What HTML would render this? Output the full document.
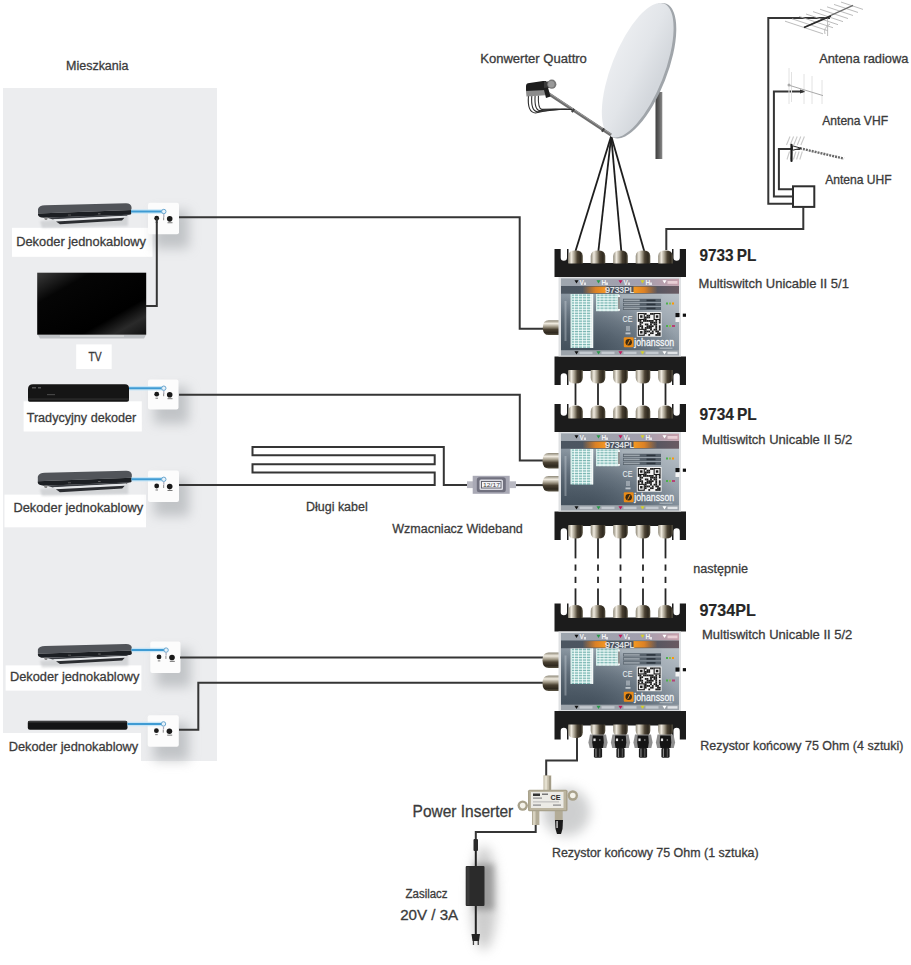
<!DOCTYPE html>
<html><head><meta charset="utf-8">
<style>
html,body{margin:0;padding:0;background:#fff;}
body{width:911px;height:965px;overflow:hidden;position:relative;}
svg{position:absolute;left:0;top:0;}
text{font-family:"Liberation Sans",sans-serif;}
</style></head><body>
<svg width="911" height="965" viewBox="0 0 911 965">
<defs>
  <linearGradient id="fc" x1="0" y1="0" x2="1" y2="0">
    <stop offset="0" stop-color="#8c8676"/><stop offset="0.22" stop-color="#f0ebe0"/><stop offset="0.45" stop-color="#9a9280"/>
    <stop offset="0.62" stop-color="#4a4132"/><stop offset="0.85" stop-color="#2e281e"/><stop offset="1" stop-color="#5a5444"/>
  </linearGradient>
  <linearGradient id="fcv" x1="0" y1="0" x2="0" y2="1">
    <stop offset="0" stop-color="#8c8676"/><stop offset="0.22" stop-color="#f0ebe0"/><stop offset="0.45" stop-color="#9a9280"/>
    <stop offset="0.62" stop-color="#4a4132"/><stop offset="0.85" stop-color="#2e281e"/><stop offset="1" stop-color="#5a5444"/>
  </linearGradient>
  <linearGradient id="msbody" x1="0.85" y1="0" x2="0.15" y2="1">
    <stop offset="0" stop-color="#c0c7cd"/><stop offset="0.3" stop-color="#a3adb6"/><stop offset="0.65" stop-color="#7a8793"/><stop offset="1" stop-color="#4f5c68"/>
  </linearGradient>
  <radialGradient id="msbody2" cx="0.25" cy="0.95" r="0.75">
    <stop offset="0" stop-color="#3c4955" stop-opacity="0.75"/><stop offset="0.6" stop-color="#3c4955" stop-opacity="0.35"/><stop offset="1" stop-color="#3c4955" stop-opacity="0"/>
  </radialGradient>
  <linearGradient id="msrow" x1="0" y1="0" x2="1" y2="0">
    <stop offset="0" stop-color="#9ea6ae"/><stop offset="0.7" stop-color="#a29fae"/><stop offset="1" stop-color="#c79fab"/>
  </linearGradient>
  <linearGradient id="mstitle" x1="0" y1="0" x2="1" y2="0">
    <stop offset="0" stop-color="#4c5661"/><stop offset="0.7" stop-color="#4d5560"/><stop offset="1" stop-color="#6a5a62"/>
  </linearGradient>
  <linearGradient id="orL" x1="0" y1="0" x2="1" y2="0">
    <stop offset="0" stop-color="#e8801e" stop-opacity="0"/><stop offset="0.55" stop-color="#ec861e" stop-opacity="0.9"/><stop offset="1" stop-color="#f59a22"/>
  </linearGradient>
  <linearGradient id="orR" x1="0" y1="0" x2="1" y2="0">
    <stop offset="0" stop-color="#f59a22"/><stop offset="0.45" stop-color="#ec861e" stop-opacity="0.9"/><stop offset="1" stop-color="#e8801e" stop-opacity="0"/>
  </linearGradient>
  <linearGradient id="dish" x1="0" y1="0" x2="1" y2="0.2">
    <stop offset="0" stop-color="#eceef1"/><stop offset="0.55" stop-color="#e2e5e9"/><stop offset="1" stop-color="#d3d7dc"/>
  </linearGradient>
  <linearGradient id="pole" x1="0" y1="0" x2="1" y2="0">
    <stop offset="0" stop-color="#3e3e3e"/><stop offset="0.5" stop-color="#5e5e5e"/><stop offset="1" stop-color="#8a8a8a"/>
  </linearGradient>
  <linearGradient id="stb" x1="0" y1="0" x2="0" y2="1">
    <stop offset="0" stop-color="#55585d"/><stop offset="0.45" stop-color="#3a3d42"/><stop offset="0.5" stop-color="#1f2226"/><stop offset="1" stop-color="#17191c"/>
  </linearGradient>
  <linearGradient id="tvg" x1="0" y1="0" x2="1" y2="1">
    <stop offset="0" stop-color="#3a3a3a"/><stop offset="0.25" stop-color="#050505"/><stop offset="0.7" stop-color="#000"/><stop offset="0.85" stop-color="#2a2a2a"/><stop offset="1" stop-color="#111"/>
  </linearGradient>
  <filter id="b1" x="-50%" y="-50%" width="200%" height="200%"><feGaussianBlur stdDeviation="1"/></filter>
  <filter id="b3" x="-50%" y="-50%" width="200%" height="200%"><feGaussianBlur stdDeviation="3"/></filter>
  <filter id="b6" x="-100%" y="-100%" width="300%" height="300%"><feGaussianBlur stdDeviation="6"/></filter>
</defs>

<rect x="3" y="88" width="214" height="673" fill="#ecedef"/>
<rect x="0" y="733" width="141" height="32" fill="#fff"/>
<rect x="12" y="227.8" width="140.5" height="29" fill="#fff"/>
<rect x="76.2" y="344.4" width="35.5" height="24.6" fill="#fff"/>
<rect x="23.6" y="401.3" width="118.2" height="30.2" fill="#fff"/>
<rect x="4.5" y="494.6" width="141.5" height="32.7" fill="#fff"/>
<rect x="5.6" y="665.4" width="135.8" height="25.2" fill="#fff"/>
<path d="M40.00,221.00 L128.00,214.00 L128.00,226.00 L42.00,228.00 Z" fill="#b9bcbf" opacity="0.5" filter="url(#b1)"/>
<path d="M38.00,209.00 Q39.00,205.50 45.00,205.30 L126.00,203.30 Q131.00,203.50 131.50,207.00 L131.50,210.00 L38.00,213.50 Z" fill="#515459"/>
<path d="M38.00,213.50 L131.50,210.00 L131.50,213.50 Q131.00,214.80 129.00,214.80 L44.00,217.80 Q38.50,217.50 38.00,215.00 Z" fill="#1c1f23"/>
<path d="M46.00,217.60 L129.00,214.60 L126.00,216.00 L53.00,219.50 Z" fill="#3a3d42"/>
<path d="M53.00,219.30 L126.00,215.80 L124.50,217.80 L56.00,221.40 Z" fill="#e4e6e8"/>
<path d="M56.00,221.40 L124.50,217.80 L122.00,220.50 L60.00,224.30 Z" fill="#2b2d31"/>
<path d="M44.00,217.80 L48.00,217.60 L47.00,220.00 L45.00,220.00 Z" fill="#888"/>
<rect x="68.00" y="214.50" width="3" height="1" fill="#555"/>
<rect x="98.00" y="213.30" width="2.5" height="1" fill="#666"/>
<path d="M39.81,488.92 L128.28,481.75 L128.28,494.04 L41.82,496.08 Z" fill="#b9bcbf" opacity="0.5" filter="url(#b1)"/>
<path d="M37.80,476.63 Q38.81,473.05 44.84,472.85 L126.27,470.80 Q131.30,471.00 131.80,474.59 L131.80,477.66 L37.80,481.24 Z" fill="#515459"/>
<path d="M37.80,481.24 L131.80,477.66 L131.80,481.24 Q131.30,482.57 129.29,482.57 L43.83,485.64 Q38.31,485.33 37.80,482.78 Z" fill="#1c1f23"/>
<path d="M45.85,485.44 L129.29,482.37 L126.27,483.80 L52.88,487.38 Z" fill="#3a3d42"/>
<path d="M52.88,487.18 L126.27,483.59 L124.76,485.64 L55.90,489.33 Z" fill="#e4e6e8"/>
<path d="M55.90,489.33 L124.76,485.64 L122.25,488.41 L59.92,492.30 Z" fill="#2b2d31"/>
<path d="M43.83,485.64 L47.86,485.44 L46.85,487.89 L44.84,487.89 Z" fill="#888"/>
<rect x="67.96" y="482.26" width="3" height="1" fill="#555"/>
<rect x="98.12" y="481.04" width="2.5" height="1" fill="#666"/>
<path d="M39.91,660.87 L128.29,654.20 L128.29,665.63 L41.92,667.53 Z" fill="#b9bcbf" opacity="0.5" filter="url(#b1)"/>
<path d="M37.90,649.43 Q38.91,646.10 44.93,645.91 L126.28,644.00 Q131.30,644.19 131.80,647.53 L131.80,650.38 L37.90,653.72 Z" fill="#515459"/>
<path d="M37.90,653.72 L131.80,650.38 L131.80,653.72 Q131.30,654.96 129.29,654.96 L43.93,657.82 Q38.40,657.53 37.90,655.15 Z" fill="#1c1f23"/>
<path d="M45.94,657.63 L129.29,654.77 L126.28,656.10 L52.97,659.44 Z" fill="#3a3d42"/>
<path d="M52.97,659.25 L126.28,655.91 L124.77,657.82 L55.98,661.25 Z" fill="#e4e6e8"/>
<path d="M55.98,661.25 L124.77,657.82 L122.26,660.39 L60.00,664.01 Z" fill="#2b2d31"/>
<path d="M43.93,657.82 L47.94,657.63 L46.94,659.91 L44.93,659.91 Z" fill="#888"/>
<rect x="68.03" y="654.67" width="3" height="1" fill="#555"/>
<rect x="98.16" y="653.53" width="2.5" height="1" fill="#666"/>
<path d="M28,389 Q28,384.2 33,384.2 L125,384.2 Q129,384.2 129,388 L129,400 Q129,401.7 127,401.7 L29.5,401.7 Q28,401.7 28,400 Z" fill="#151515"/>
<rect x="32" y="387" width="4" height="1.5" fill="#555"/><rect x="38" y="387" width="3" height="1.5" fill="#555"/><rect x="47" y="394" width="8" height="1.2" fill="#444"/>
<rect x="28" y="398.5" width="101" height="1.2" fill="#303030"/>
<rect x="27.8" y="720.7" width="99.7" height="9.1" rx="2" fill="#141414"/>
<rect x="28" y="721" width="99" height="1.5" fill="#3c3c3c"/>
<rect x="37.2" y="272.7" width="109" height="62" fill="url(#tvg)"/>
<path d="M38,335 L146,335 L144,338.5 L40,338.5 Z" fill="#bfc2c5"/>
<rect x="60" y="335.5" width="64" height="1" fill="#e5e5e5"/>
<rect x="154" y="210.8" width="35" height="37.5" fill="#9ea2a6" opacity="0.55" filter="url(#b6)"/>
<rect x="148" y="202.8" width="31" height="31.5" rx="2" fill="#fcfcfc"/>
<circle cx="156.7" cy="218.235" r="2.4" fill="#1a1a1a"/>
<circle cx="169.7" cy="218.835" r="2.8" fill="#1a1a1a"/>
<rect x="167.5" y="222.235" width="5" height="1" fill="#777"/>
<rect x="155.5" y="221.735" width="2.5" height="1" fill="#777"/>
<rect x="163" y="217.235" width="1.2" height="3" fill="#999"/>
<rect x="154" y="387.4" width="34.5" height="36.2" fill="#9ea2a6" opacity="0.55" filter="url(#b6)"/>
<rect x="148" y="379.4" width="30.5" height="30.2" rx="2" fill="#fcfcfc"/>
<circle cx="156.7" cy="394.198" r="2.4" fill="#1a1a1a"/>
<circle cx="169.7" cy="394.798" r="2.8" fill="#1a1a1a"/>
<rect x="167.5" y="398.198" width="5" height="1" fill="#777"/>
<rect x="155.5" y="397.698" width="2.5" height="1" fill="#777"/>
<rect x="163" y="393.198" width="1.2" height="3" fill="#999"/>
<rect x="154" y="478.6" width="35" height="37.4" fill="#9ea2a6" opacity="0.55" filter="url(#b6)"/>
<rect x="148" y="470.6" width="31" height="31.4" rx="2" fill="#fcfcfc"/>
<circle cx="156.7" cy="485.98600000000005" r="2.4" fill="#1a1a1a"/>
<circle cx="169.7" cy="486.58600000000007" r="2.8" fill="#1a1a1a"/>
<rect x="167.5" y="489.98600000000005" width="5" height="1" fill="#777"/>
<rect x="155.5" y="489.48600000000005" width="2.5" height="1" fill="#777"/>
<rect x="163" y="484.98600000000005" width="1.2" height="3" fill="#999"/>
<rect x="156.3" y="649.4" width="34.2" height="37.6" fill="#9ea2a6" opacity="0.55" filter="url(#b6)"/>
<rect x="150.3" y="641.4" width="30.2" height="31.6" rx="2" fill="#fcfcfc"/>
<circle cx="159.0" cy="656.884" r="2.4" fill="#1a1a1a"/>
<circle cx="172.0" cy="657.484" r="2.8" fill="#1a1a1a"/>
<rect x="169.8" y="660.884" width="5" height="1" fill="#777"/>
<rect x="157.8" y="660.384" width="2.5" height="1" fill="#777"/>
<rect x="165.3" y="655.884" width="1.2" height="3" fill="#999"/>
<rect x="153.7" y="723.2" width="35.1" height="37.5" fill="#9ea2a6" opacity="0.55" filter="url(#b6)"/>
<rect x="147.7" y="715.2" width="31.1" height="31.5" rx="2" fill="#fcfcfc"/>
<circle cx="156.39999999999998" cy="730.635" r="2.4" fill="#1a1a1a"/>
<circle cx="169.39999999999998" cy="731.235" r="2.8" fill="#1a1a1a"/>
<rect x="167.2" y="734.635" width="5" height="1" fill="#777"/>
<rect x="155.2" y="734.135" width="2.5" height="1" fill="#777"/>
<rect x="162.7" y="729.635" width="1.2" height="3" fill="#999"/>
<line x1="131" y1="211.5" x2="163.8" y2="211.5" stroke="#bfe3f7" stroke-width="4.5" opacity="0.8"/>
<line x1="131" y1="211.5" x2="163.8" y2="211.5" stroke="#3f9bd3" stroke-width="2"/>
<line x1="129" y1="388.2" x2="163.8" y2="388.2" stroke="#bfe3f7" stroke-width="4.5" opacity="0.8"/>
<line x1="129" y1="388.2" x2="163.8" y2="388.2" stroke="#3f9bd3" stroke-width="2"/>
<line x1="131.5" y1="479.3" x2="163.8" y2="479.3" stroke="#bfe3f7" stroke-width="4.5" opacity="0.8"/>
<line x1="131.5" y1="479.3" x2="163.8" y2="479.3" stroke="#3f9bd3" stroke-width="2"/>
<line x1="131.5" y1="650.1" x2="166.1" y2="650.1" stroke="#bfe3f7" stroke-width="4.5" opacity="0.8"/>
<line x1="131.5" y1="650.1" x2="166.1" y2="650.1" stroke="#3f9bd3" stroke-width="2"/>
<line x1="127.5" y1="723.9" x2="163.5" y2="723.9" stroke="#bfe3f7" stroke-width="4.5" opacity="0.8"/>
<line x1="127.5" y1="723.9" x2="163.5" y2="723.9" stroke="#3f9bd3" stroke-width="2"/>
<circle cx="163.8" cy="211.5" r="2.2" fill="#e6f2fa" stroke="#6aa6cf" stroke-width="1"/>
<rect x="163.20000000000002" y="214.0" width="1.2" height="3" fill="#aab"/>
<circle cx="163.8" cy="388.2" r="2.2" fill="#e6f2fa" stroke="#6aa6cf" stroke-width="1"/>
<rect x="163.20000000000002" y="390.7" width="1.2" height="3" fill="#aab"/>
<circle cx="163.8" cy="479.3" r="2.2" fill="#e6f2fa" stroke="#6aa6cf" stroke-width="1"/>
<rect x="163.20000000000002" y="481.8" width="1.2" height="3" fill="#aab"/>
<circle cx="166.1" cy="650.1" r="2.2" fill="#e6f2fa" stroke="#6aa6cf" stroke-width="1"/>
<rect x="165.5" y="652.6" width="1.2" height="3" fill="#aab"/>
<circle cx="163.5" cy="723.9" r="2.2" fill="#e6f2fa" stroke="#6aa6cf" stroke-width="1"/>
<rect x="162.9" y="726.4" width="1.2" height="3" fill="#aab"/>
<path d="M179,217.3 L519.7,217.3 L519.7,328.8 L543,328.8" stroke="#353535" stroke-width="2" fill="none" stroke-linejoin="miter" stroke-linecap="butt"/>
<path d="M146,306 L156.8,306 L156.8,218" stroke="#353535" stroke-width="2" fill="none" stroke-linejoin="miter" stroke-linecap="butt"/>
<path d="M179,394.7 L519.8,394.7 L519.8,460.6 L543,460.6" stroke="#353535" stroke-width="2" fill="none" stroke-linejoin="miter" stroke-linecap="butt"/>
<path d="M179,485.1 L434.7,485.1 L434.7,472.6 L252.5,472.6 L252.5,464.2 L434.7,464.2 L434.7,455.2 L252.5,455.2 L252.5,447 L443.8,447 L443.8,485.1 L470,485.1" stroke="#353535" stroke-width="2" fill="none" stroke-linejoin="miter" stroke-linecap="butt"/>
<path d="M514,485.1 L543,485.1" stroke="#353535" stroke-width="2" fill="none" stroke-linejoin="miter" stroke-linecap="butt"/>
<path d="M180,657.4 L543,657.4" stroke="#353535" stroke-width="2" fill="none" stroke-linejoin="miter" stroke-linecap="butt"/>
<path d="M179,729.8 L198.3,729.8 L198.3,682.8 L543,682.8" stroke="#353535" stroke-width="2" fill="none" stroke-linejoin="miter" stroke-linecap="butt"/>
<path d="M577,737 L577,760.6 L546.2,760.6 L546.2,777" stroke="#353535" stroke-width="2" fill="none" stroke-linejoin="miter" stroke-linecap="butt"/>
<path d="M535.7,824 L535.7,831.9 L475.8,831.9 L475.8,842" stroke="#353535" stroke-width="2" fill="none" stroke-linejoin="miter" stroke-linecap="butt"/>
<path d="M830,18.1 L768.3,18.1 L768.3,203.7 L793,203.7" stroke="#353535" stroke-width="2" fill="none" stroke-linejoin="miter" stroke-linecap="butt"/>
<path d="M804.5,91.6 L773.9,91.6 L773.9,196.6 L793,196.6" stroke="#353535" stroke-width="2" fill="none" stroke-linejoin="miter" stroke-linecap="butt"/>
<path d="M800,149 L778.9,149 L778.9,189.2 L793,189.2" stroke="#353535" stroke-width="2" fill="none" stroke-linejoin="miter" stroke-linecap="butt"/>
<rect x="793" y="186.3" width="21.3" height="20.6" fill="#fff" stroke="#2e2e2e" stroke-width="2"/>
<path d="M803.3,207 L803.3,228.9 L666.3,228.9 L666.3,250" stroke="#353535" stroke-width="2" fill="none" stroke-linejoin="miter" stroke-linecap="butt"/>
<path d="M611.2,136 L575.5,251" stroke="#1e1e1e" stroke-width="1.8" fill="none" stroke-linejoin="miter" stroke-linecap="butt"/>
<path d="M611.2,136 L598.4,251" stroke="#1e1e1e" stroke-width="1.8" fill="none" stroke-linejoin="miter" stroke-linecap="butt"/>
<path d="M611.2,136 L621.3,251" stroke="#1e1e1e" stroke-width="1.8" fill="none" stroke-linejoin="miter" stroke-linecap="butt"/>
<path d="M611.2,136 L644.2,251" stroke="#1e1e1e" stroke-width="1.8" fill="none" stroke-linejoin="miter" stroke-linecap="butt"/>
<path d="M575.5,383 L575.5,405" stroke="#262626" stroke-width="1.8" fill="none" stroke-linejoin="miter" stroke-linecap="butt"/>
<path d="M598,383 L598,405" stroke="#262626" stroke-width="1.8" fill="none" stroke-linejoin="miter" stroke-linecap="butt"/>
<path d="M620.5,383 L620.5,405" stroke="#262626" stroke-width="1.8" fill="none" stroke-linejoin="miter" stroke-linecap="butt"/>
<path d="M643,383 L643,405" stroke="#262626" stroke-width="1.8" fill="none" stroke-linejoin="miter" stroke-linecap="butt"/>
<path d="M665.5,383 L665.5,405" stroke="#262626" stroke-width="1.8" fill="none" stroke-linejoin="miter" stroke-linecap="butt"/>
<path d="M575.5,538 L575.5,558.4" stroke="#262626" stroke-width="1.8" fill="none" stroke-linejoin="miter" stroke-linecap="butt"/>
<path d="M575.5,564.5 L575.5,570.7" stroke="#262626" stroke-width="1.8" fill="none" stroke-linejoin="miter" stroke-linecap="butt"/>
<path d="M575.5,576.8 L575.5,583" stroke="#262626" stroke-width="1.8" fill="none" stroke-linejoin="miter" stroke-linecap="butt"/>
<path d="M575.5,588.4 L575.5,605" stroke="#262626" stroke-width="1.8" fill="none" stroke-linejoin="miter" stroke-linecap="butt"/>
<path d="M598,538 L598,558.4" stroke="#262626" stroke-width="1.8" fill="none" stroke-linejoin="miter" stroke-linecap="butt"/>
<path d="M598,564.5 L598,570.7" stroke="#262626" stroke-width="1.8" fill="none" stroke-linejoin="miter" stroke-linecap="butt"/>
<path d="M598,576.8 L598,583" stroke="#262626" stroke-width="1.8" fill="none" stroke-linejoin="miter" stroke-linecap="butt"/>
<path d="M598,588.4 L598,605" stroke="#262626" stroke-width="1.8" fill="none" stroke-linejoin="miter" stroke-linecap="butt"/>
<path d="M620.5,538 L620.5,558.4" stroke="#262626" stroke-width="1.8" fill="none" stroke-linejoin="miter" stroke-linecap="butt"/>
<path d="M620.5,564.5 L620.5,570.7" stroke="#262626" stroke-width="1.8" fill="none" stroke-linejoin="miter" stroke-linecap="butt"/>
<path d="M620.5,576.8 L620.5,583" stroke="#262626" stroke-width="1.8" fill="none" stroke-linejoin="miter" stroke-linecap="butt"/>
<path d="M620.5,588.4 L620.5,605" stroke="#262626" stroke-width="1.8" fill="none" stroke-linejoin="miter" stroke-linecap="butt"/>
<path d="M643,538 L643,558.4" stroke="#262626" stroke-width="1.8" fill="none" stroke-linejoin="miter" stroke-linecap="butt"/>
<path d="M643,564.5 L643,570.7" stroke="#262626" stroke-width="1.8" fill="none" stroke-linejoin="miter" stroke-linecap="butt"/>
<path d="M643,576.8 L643,583" stroke="#262626" stroke-width="1.8" fill="none" stroke-linejoin="miter" stroke-linecap="butt"/>
<path d="M643,588.4 L643,605" stroke="#262626" stroke-width="1.8" fill="none" stroke-linejoin="miter" stroke-linecap="butt"/>
<path d="M665.5,538 L665.5,558.4" stroke="#262626" stroke-width="1.8" fill="none" stroke-linejoin="miter" stroke-linecap="butt"/>
<path d="M665.5,564.5 L665.5,570.7" stroke="#262626" stroke-width="1.8" fill="none" stroke-linejoin="miter" stroke-linecap="butt"/>
<path d="M665.5,576.8 L665.5,583" stroke="#262626" stroke-width="1.8" fill="none" stroke-linejoin="miter" stroke-linecap="butt"/>
<path d="M665.5,588.4 L665.5,605" stroke="#262626" stroke-width="1.8" fill="none" stroke-linejoin="miter" stroke-linecap="butt"/>
<rect x="655.5" y="92" width="6.8" height="67" fill="url(#pole)"/>
<ellipse cx="640" cy="70.8" rx="26.8" ry="72" transform="rotate(21.5 640 70.8)" fill="#a0a5aa"/>
<ellipse cx="637.7" cy="70.2" rx="26.3" ry="71.6" transform="rotate(21.5 637.7 70.2)" fill="url(#dish)"/>
<line x1="546" y1="92" x2="611" y2="135" stroke="#6e6e6e" stroke-width="3.2"/>
<line x1="546" y1="91" x2="611" y2="134" stroke="#9a9a9a" stroke-width="1"/>
<rect x="572" y="108.5" width="2" height="4" fill="#444" transform="rotate(33.5 573 110.5)"/>
<rect x="602" y="128" width="2" height="4" fill="#444" transform="rotate(33.5 603 130)"/>
<path d="M528.5,95.5 Q527.0,112.5 535.5,113.0 Q556,108.5 572,109.5" stroke="#2e2e2e" stroke-width="1.1" fill="none"/>
<path d="M531.8,95.5 Q530.5999999999999,111.2 537.5999999999999,111.8 Q556,108.5 572,109.5" stroke="#2e2e2e" stroke-width="1.1" fill="none"/>
<path d="M535.1,95.5 Q534.2,109.9 539.7,110.6 Q556,108.5 572,109.5" stroke="#2e2e2e" stroke-width="1.1" fill="none"/>
<path d="M538.4,95.5 Q537.8,108.6 541.8,109.4 Q556,108.5 572,109.5" stroke="#2e2e2e" stroke-width="1.1" fill="none"/>
<path d="M526,86 Q526,83.2 529.5,83 L543,81 L546,81 L546.5,91 L529,92.2 Q526,92.3 526,90 Z" fill="#1d1d1d"/>
<path d="M526,91 L546,90 L545.5,95.3 L526.5,96.5 Z" fill="#8c8c8c"/>
<rect x="544" y="81.5" width="5" height="6.5" fill="#3a3a3a"/>
<circle cx="551.8" cy="84.2" r="4.6" fill="#777"/><circle cx="551.3" cy="84.2" r="3.2" fill="#999"/>
<path d="M543.5,88 L548,87.5 L550.5,96.5 L546,98 Z" fill="#1d1d1d"/>
<g stroke="#b4b4b4" stroke-width="0.9" fill="none">
<line x1="785.0" y1="21.173000000000002" x2="823.0" y2="33.827"/>
<line x1="792.0" y1="18.786" x2="828.0" y2="30.774"/>
<line x1="799.0" y1="16.398999999999997" x2="833.0" y2="27.721"/>
<line x1="806.0" y1="14.012" x2="838.0" y2="24.668"/>
<line x1="813.0" y1="11.624999999999996" x2="843.0" y2="21.615"/>
<line x1="820.0" y1="9.238" x2="848.0" y2="18.561999999999998"/>
<line x1="827.0" y1="6.850999999999999" x2="853.0" y2="15.509"/>
<line x1="834.0" y1="4.463999999999997" x2="858.0" y2="12.455999999999998"/>
<line x1="841.0" y1="2.076999999999998" x2="863.0" y2="9.402999999999999"/>
<line x1="827.6" y1="18" x2="827.6" y2="36"/>
<path d="M830,24 Q823,28 825,34"/>
</g>
<line x1="804" y1="27.5" x2="853" y2="5.4" stroke="#6a6a6a" stroke-width="1.3"/>
<line x1="804" y1="27.5" x2="831" y2="16" stroke="#2a2a2a" stroke-width="1.5"/>
<g stroke="#e2e2e2" stroke-width="1" fill="none">
<line x1="789" y1="68" x2="789" y2="104"/>
<line x1="791.5" y1="72" x2="791.5" y2="102"/>
<line x1="804" y1="74" x2="804" y2="104"/>
<line x1="812" y1="76" x2="812" y2="104"/>
<line x1="822" y1="80" x2="822" y2="104"/>
</g>
<line x1="788.3" y1="85" x2="823" y2="95.6" stroke="#a9a9a9" stroke-width="1"/>
<circle cx="789" cy="85" r="1.5" fill="#aaa"/>
<path d="M800,89.5 L805,91.6 L800,93.5 Z" fill="#333"/>
<g stroke="#c9c9c9" stroke-width="1.1" fill="none">
<line x1="786.5" y1="145" x2="790.0" y2="136.5"/>
<line x1="787.0" y1="159.5" x2="789.5" y2="151.5"/>
<line x1="790.1" y1="145" x2="793.6" y2="136.5"/>
<line x1="790.2" y1="159.5" x2="792.7" y2="151.5"/>
<line x1="793.7" y1="145" x2="797.2" y2="136.5"/>
<line x1="793.4" y1="159.5" x2="795.9" y2="151.5"/>
<line x1="797.3" y1="145" x2="800.8" y2="136.5"/>
<line x1="796.6" y1="159.5" x2="799.1" y2="151.5"/>
<line x1="800.9" y1="145" x2="804.4" y2="136.5"/>
<line x1="799.8" y1="159.5" x2="802.3" y2="151.5"/>
</g>
<line x1="800" y1="148.3" x2="844" y2="158.6" stroke="#6a6a6a" stroke-width="2.4" stroke-dasharray="2 1"/>
<line x1="791.5" y1="144.8" x2="791.5" y2="161" stroke="#1a1a1a" stroke-width="2.2" stroke-linecap="round"/>
<path d="M792.5,145.8 L801,148.2 L792.5,150.3 Z" fill="#f4f4f4" stroke="#2a2a2a" stroke-width="1"/>
<rect x="467" y="481.3" width="6" height="6.8" fill="#b9b9c2"/>
<rect x="509.5" y="481.3" width="6.5" height="6.8" fill="#b9b9c2"/>
<rect x="472.7" y="475.8" width="37" height="18" fill="#a9a9b5"/>
<rect x="476.8" y="477.3" width="29" height="15" rx="2.5" fill="#71717f"/>
<rect x="479.5" y="479.5" width="23.5" height="10.5" rx="1.5" fill="#dcdce3"/>
<rect x="481.5" y="481.5" width="19.5" height="6.5" fill="#f4f4f7" stroke="#5a5a66" stroke-width="0.9"/>
<text x="483" y="487" font-size="6" fill="#444" textLength="17" lengthAdjust="spacingAndGlyphs">12/17</text>
<ellipse cx="566" cy="812" rx="24" ry="24" fill="#9fa1a3" opacity="0.5" filter="url(#b6)"/>
<rect x="543.4" y="775.3" width="7.9" height="15" fill="#c3bca8"/>
<rect x="544.5" y="776" width="2.8" height="14" fill="#e4dfcf"/>
<rect x="549" y="776" width="2" height="14" fill="#a39c88"/>
<circle cx="522.7" cy="805.6" r="5.2" fill="#a8a18b"/><circle cx="522.7" cy="805.6" r="2.8" fill="#f4f2ea"/>
<circle cx="572.8" cy="795.5" r="5.2" fill="#a8a18b"/><circle cx="572.8" cy="795.5" r="2.8" fill="#f4f2ea"/>
<rect x="532" y="811" width="7.4" height="14" fill="#b3ac97"/><rect x="533" y="811" width="2.5" height="14" fill="#d8d2c0"/>
<rect x="554.8" y="811" width="7.9" height="9.5" fill="#b3ac97"/>
<path d="M555,820 L563,820 L562.5,829 L561,834 L557,834 L555.5,829 Z" fill="#1a1a1a"/>
<rect x="556.3" y="821" width="1.6" height="7" fill="#bbb"/>
<rect x="528" y="789.8" width="39.5" height="21.5" rx="1.5" fill="#a9a28c"/>
<rect x="529.5" y="791" width="36.5" height="19" fill="#bcb5a0"/>
<rect x="531" y="792" width="32.5" height="16" fill="#ecebe6"/>
<rect x="533" y="793.5" width="7" height="2.5" fill="#333"/><rect x="542" y="793.5" width="6" height="1.5" fill="#777"/>
<text x="550.5" y="800" font-size="7.5" font-weight="bold" fill="#2a2a2a" textLength="10" lengthAdjust="spacingAndGlyphs">CE</text>
<rect x="533" y="797.5" width="9" height="1.2" fill="#888"/><rect x="533" y="801.5" width="26" height="0.8" fill="#aaa"/><rect x="533" y="804.5" width="8" height="1.2" fill="#888"/><rect x="553" y="804.5" width="8" height="1.2" fill="#888"/>
<ellipse cx="484" cy="898" rx="13" ry="52" fill="#9a9a9a" opacity="0.5" filter="url(#b6)"/>
<rect x="474" y="864" width="20" height="46" fill="#7a7a7a" opacity="0.6" filter="url(#b3)"/>
<rect x="474.8" y="842" width="2" height="24" fill="#222"/>
<rect x="473.5" y="839" width="4.5" height="12" rx="1" fill="#2a2a2a"/>
<rect x="474.8" y="905" width="2" height="30" fill="#222"/>
<rect x="465.7" y="866" width="18.8" height="40" rx="1" fill="#2b2b2b"/>
<rect x="466.5" y="867" width="3" height="38" fill="#3a3a3a"/>
<path d="M471.5,934 L480,934 L479,941 L472.5,941 Z" fill="#222"/>
<rect x="472.8" y="941" width="1.3" height="4" fill="#444"/><rect x="477.6" y="941" width="1.3" height="4" fill="#444"/>
<g transform="translate(554.5,249)">
<path d="M0,0 L6.2,0 L6.2,8.5 Q6.2,11.8 9.35,11.8 Q12.5,11.8 12.5,8.5 L12.5,0 L14,0 L14,14 L117.5,14 L117.5,0 L119,0 L119,8.5 Q119,11.8 122.15,11.8 Q125.3,11.8 125.3,8.5 L125.3,0 L131.5,0 L131.5,28 L0,28 Z" fill="#1c1c1c"/>
<path d="M13.7,14.5 L13.7,7.4399999999999995 Q13.7,1.6 21,1.6 Q28.299999999999997,1.6 28.299999999999997,7.4399999999999995 L28.299999999999997,14.5 Z" fill="url(#fc)"/>
<path d="M36.2,14.5 L36.2,7.4399999999999995 Q36.2,1.6 43.5,1.6 Q50.800000000000004,1.6 50.800000000000004,7.4399999999999995 L50.800000000000004,14.5 Z" fill="url(#fc)"/>
<path d="M58.7,14.5 L58.7,7.4399999999999995 Q58.7,1.6 66,1.6 Q73.3,1.6 73.3,7.4399999999999995 L73.3,14.5 Z" fill="url(#fc)"/>
<path d="M81.2,14.5 L81.2,7.4399999999999995 Q81.2,1.6 88.5,1.6 Q95.8,1.6 95.8,7.4399999999999995 L95.8,14.5 Z" fill="url(#fc)"/>
<path d="M103.7,14.5 L103.7,7.4399999999999995 Q103.7,1.6 111,1.6 Q118.3,1.6 118.3,7.4399999999999995 L118.3,14.5 Z" fill="url(#fc)"/>
<path d="M0,107.5 L131.5,107.5 L131.5,136 L125.3,136 L125.3,127.5 Q125.3,124.2 122.15,124.2 Q119,124.2 119,127.5 L119,136 L117.5,136 L117.5,122 L14,122 L14,136 L12.5,136 L12.5,127.5 Q12.5,124.2 9.35,124.2 Q6.2,124.2 6.2,127.5 L6.2,136 L0,136 Z" fill="#1c1c1c"/>
<path d="M13.7,121 L13.7,128.66 Q13.7,134.5 21,134.5 Q28.299999999999997,134.5 28.299999999999997,128.66 L28.299999999999997,121 Z" fill="url(#fc)"/>
<path d="M36.2,121 L36.2,128.66 Q36.2,134.5 43.5,134.5 Q50.800000000000004,134.5 50.800000000000004,128.66 L50.800000000000004,121 Z" fill="url(#fc)"/>
<path d="M58.7,121 L58.7,128.66 Q58.7,134.5 66,134.5 Q73.3,134.5 73.3,128.66 L73.3,121 Z" fill="url(#fc)"/>
<path d="M81.2,121 L81.2,128.66 Q81.2,134.5 88.5,134.5 Q95.8,134.5 95.8,128.66 L95.8,121 Z" fill="url(#fc)"/>
<path d="M103.7,121 L103.7,128.66 Q103.7,134.5 111,134.5 Q118.3,134.5 118.3,128.66 L118.3,121 Z" fill="url(#fc)"/>
<path d="M4.5,71.3 L-5.78,71.3 Q-11.7,71.3 -11.7,78.69999999999999 Q-11.7,86.1 -5.78,86.1 L4.5,86.1 Z" fill="url(#fcv)"/>
<rect x="4" y="28" width="122.5" height="79.5" fill="#dfe1e3"/>
<rect x="6.5" y="29.5" width="118" height="76.5" fill="url(#msbody)"/>
<rect x="6.5" y="29.5" width="118" height="76.5" fill="url(#msbody2)"/>
<rect x="6.5" y="29.8" width="118" height="7" fill="url(#msrow)"/>
<path d="M20,31.3 L24,31.3 L22,34.5 Z" fill="#111"/>
<text x="25" y="35.8" font-size="6.5" font-weight="bold" fill="#f2f4f6">V</text>
<rect x="29.5" y="33.5" width="2" height="2.5" fill="#f2f4f6" opacity="0.8"/>
<path d="M42,31.3 L46,31.3 L44,34.5 Z" fill="#2a9a4a"/>
<text x="47" y="35.8" font-size="6.5" font-weight="bold" fill="#f2f4f6">H</text>
<rect x="51.5" y="33.5" width="2" height="2.5" fill="#f2f4f6" opacity="0.8"/>
<path d="M64,31.3 L68,31.3 L66,34.5 Z" fill="#c2185b"/>
<text x="69" y="35.8" font-size="6.5" font-weight="bold" fill="#f2f4f6">V</text>
<rect x="73.5" y="33.5" width="2" height="2.5" fill="#f2f4f6" opacity="0.8"/>
<path d="M86,31.3 L90,31.3 L88,34.5 Z" fill="#d4d02a"/>
<text x="91" y="35.8" font-size="6.5" font-weight="bold" fill="#f2f4f6">H</text>
<rect x="95.5" y="33.5" width="2" height="2.5" fill="#f2f4f6" opacity="0.8"/>
<path d="M108,31.3 L112,31.3 L110,34.5 Z" fill="#fff"/>
<rect x="113" y="32" width="10" height="2.8" fill="#f6dfe3" opacity="0.75"/>
<rect x="6.5" y="37" width="118" height="7.7" fill="url(#mstitle)"/>
<rect x="28" y="37.6" width="24" height="6.5" fill="url(#orL)"/>
<rect x="79" y="37.6" width="24" height="6.5" fill="url(#orR)"/>
<text x="50.8" y="44.2" font-size="8.6" textLength="29" lengthAdjust="spacingAndGlyphs" fill="#eef0f2" stroke="#eef0f2" stroke-width="0.2">9733PL</text>
<rect x="16" y="45" width="22.7" height="54" fill="#d6efec"/>
<rect x="41.5" y="45" width="22.8" height="17.2" fill="#d6efec"/>
<rect x="17.5" y="45.60" width="19.5" height="1.1" fill="#5fa3a0" opacity="0.75"/>
<rect x="17.5" y="48.20" width="19.5" height="1.1" fill="#5fa3a0" opacity="0.75"/>
<rect x="17.5" y="50.80" width="19.5" height="1.1" fill="#5fa3a0" opacity="0.75"/>
<rect x="17.5" y="53.40" width="19.5" height="1.1" fill="#5fa3a0" opacity="0.75"/>
<rect x="17.5" y="56.00" width="19.5" height="1.1" fill="#5fa3a0" opacity="0.75"/>
<rect x="17.5" y="58.60" width="19.5" height="1.1" fill="#5fa3a0" opacity="0.75"/>
<rect x="17.5" y="61.20" width="19.5" height="1.1" fill="#5fa3a0" opacity="0.75"/>
<rect x="17.5" y="63.80" width="19.5" height="1.1" fill="#5fa3a0" opacity="0.75"/>
<rect x="17.5" y="66.40" width="19.5" height="1.1" fill="#5fa3a0" opacity="0.75"/>
<rect x="17.5" y="69.00" width="19.5" height="1.1" fill="#5fa3a0" opacity="0.75"/>
<rect x="17.5" y="71.60" width="19.5" height="1.1" fill="#5fa3a0" opacity="0.75"/>
<rect x="17.5" y="74.20" width="19.5" height="1.1" fill="#5fa3a0" opacity="0.75"/>
<rect x="17.5" y="76.80" width="19.5" height="1.1" fill="#5fa3a0" opacity="0.75"/>
<rect x="17.5" y="79.40" width="19.5" height="1.1" fill="#5fa3a0" opacity="0.75"/>
<rect x="17.5" y="82.00" width="19.5" height="1.1" fill="#5fa3a0" opacity="0.75"/>
<rect x="17.5" y="84.60" width="19.5" height="1.1" fill="#5fa3a0" opacity="0.75"/>
<rect x="17.5" y="87.20" width="19.5" height="1.1" fill="#5fa3a0" opacity="0.75"/>
<rect x="17.5" y="89.80" width="19.5" height="1.1" fill="#5fa3a0" opacity="0.75"/>
<rect x="17.5" y="92.40" width="19.5" height="1.1" fill="#5fa3a0" opacity="0.75"/>
<rect x="17.5" y="95.00" width="19.5" height="1.1" fill="#5fa3a0" opacity="0.75"/>
<rect x="17.5" y="97.60" width="19.5" height="1.1" fill="#5fa3a0" opacity="0.75"/>
<rect x="42.8" y="45.60" width="20" height="1.1" fill="#5fa3a0" opacity="0.75"/>
<rect x="42.8" y="48.20" width="20" height="1.1" fill="#5fa3a0" opacity="0.75"/>
<rect x="42.8" y="50.80" width="20" height="1.1" fill="#5fa3a0" opacity="0.75"/>
<rect x="42.8" y="53.40" width="20" height="1.1" fill="#5fa3a0" opacity="0.75"/>
<rect x="42.8" y="56.00" width="20" height="1.1" fill="#5fa3a0" opacity="0.75"/>
<rect x="42.8" y="58.60" width="20" height="1.1" fill="#5fa3a0" opacity="0.75"/>
<rect x="19.5" y="45" width="1" height="54" fill="#ffffff" opacity="0.7"/>
<rect x="23.5" y="45" width="1" height="54" fill="#ffffff" opacity="0.7"/>
<rect x="27.5" y="45" width="1" height="54" fill="#ffffff" opacity="0.7"/>
<rect x="31.5" y="45" width="1" height="54" fill="#ffffff" opacity="0.7"/>
<rect x="35.5" y="45" width="1" height="54" fill="#ffffff" opacity="0.7"/>
<rect x="45" y="45" width="1" height="17.2" fill="#ffffff" opacity="0.7"/>
<rect x="49" y="45" width="1" height="17.2" fill="#ffffff" opacity="0.7"/>
<rect x="53" y="45" width="1" height="17.2" fill="#ffffff" opacity="0.7"/>
<rect x="57" y="45" width="1" height="17.2" fill="#ffffff" opacity="0.7"/>
<rect x="61" y="45" width="1" height="17.2" fill="#ffffff" opacity="0.7"/>
<rect x="36.8" y="45" width="1.8" height="54" fill="#f6f8f8"/>
<rect x="63.5" y="46" width="2" height="16" rx="1" fill="#f4f4f4"/><rect x="64" y="48" width="1" height="12" fill="#333"/>
<rect x="10" y="52" width="2" height="40" fill="#d8dde2" opacity="0.35"/>
<rect x="67.5" y="46.2" width="39.5" height="3" fill="#aab3bb" opacity="0.7"/>
<rect x="68.5" y="49.8" width="38" height="3.2" fill="#56616b"/>
<rect x="69.2" y="50.599999999999994" width="16" height="1.6" fill="#aeb6bd" opacity="0.8"/>
<rect x="92" y="50.599999999999994" width="9" height="1.6" fill="#2c343c"/>
<rect x="68.5" y="53.8" width="38" height="3.2" fill="#56616b"/>
<rect x="69.2" y="54.599999999999994" width="16" height="1.6" fill="#aeb6bd" opacity="0.8"/>
<rect x="92" y="54.599999999999994" width="9" height="1.6" fill="#2c343c"/>
<rect x="68.5" y="57.8" width="38" height="3.2" fill="#56616b"/>
<rect x="69.2" y="58.599999999999994" width="16" height="1.6" fill="#aeb6bd" opacity="0.8"/>
<rect x="92" y="58.599999999999994" width="9" height="1.6" fill="#2c343c"/>
<rect x="111.5" y="53.5" width="2" height="2" fill="#4caf50"/><rect x="114.5" y="53.5" width="2" height="2" fill="#8bc34a"/><rect x="117.5" y="53.5" width="2" height="2" fill="#ff9800"/>
<rect x="111.5" y="76" width="2" height="2" fill="#4caf50"/><rect x="114.5" y="76" width="2" height="2" fill="#8bc34a"/><rect x="117.5" y="76" width="3" height="2" fill="#c2185b" opacity="0.7"/>
<rect x="121" y="64" width="4" height="4" fill="#111"/><rect x="121" y="68.5" width="4" height="4.5" fill="#f4f4f4"/>
<rect x="128.3" y="64.6" width="3.2" height="3.2" fill="#111"/>
<text x="68" y="73.2" font-size="8.5" fill="#eef1f3" textLength="10" lengthAdjust="spacingAndGlyphs">CE</text>
<rect x="71.5" y="77" width="4" height="5" fill="#c9d0d6" opacity="0.5"/><rect x="71" y="83.5" width="5" height="1.8" fill="#e4e8eb" opacity="0.7"/>
<rect x="82.3" y="63" width="24.8" height="24.7" fill="#f4f4f4"/>
<rect x="90.32" y="64.00" width="1.80" height="1.80" fill="#1b1b1b"/>
<rect x="95.58" y="64.00" width="1.80" height="1.80" fill="#1b1b1b"/>
<rect x="97.33" y="64.00" width="1.80" height="1.80" fill="#1b1b1b"/>
<rect x="92.07" y="65.75" width="1.80" height="1.80" fill="#1b1b1b"/>
<rect x="93.82" y="65.75" width="1.80" height="1.80" fill="#1b1b1b"/>
<rect x="90.32" y="67.51" width="1.80" height="1.80" fill="#1b1b1b"/>
<rect x="92.07" y="67.51" width="1.80" height="1.80" fill="#1b1b1b"/>
<rect x="93.82" y="67.51" width="1.80" height="1.80" fill="#1b1b1b"/>
<rect x="90.32" y="69.26" width="1.80" height="1.80" fill="#1b1b1b"/>
<rect x="83.30" y="71.02" width="1.80" height="1.80" fill="#1b1b1b"/>
<rect x="85.05" y="71.02" width="1.80" height="1.80" fill="#1b1b1b"/>
<rect x="88.56" y="71.02" width="1.80" height="1.80" fill="#1b1b1b"/>
<rect x="90.32" y="71.02" width="1.80" height="1.80" fill="#1b1b1b"/>
<rect x="92.07" y="71.02" width="1.80" height="1.80" fill="#1b1b1b"/>
<rect x="93.82" y="71.02" width="1.80" height="1.80" fill="#1b1b1b"/>
<rect x="95.58" y="71.02" width="1.80" height="1.80" fill="#1b1b1b"/>
<rect x="97.33" y="71.02" width="1.80" height="1.80" fill="#1b1b1b"/>
<rect x="100.84" y="71.02" width="1.80" height="1.80" fill="#1b1b1b"/>
<rect x="104.35" y="71.02" width="1.80" height="1.80" fill="#1b1b1b"/>
<rect x="85.05" y="72.77" width="1.80" height="1.80" fill="#1b1b1b"/>
<rect x="86.81" y="72.77" width="1.80" height="1.80" fill="#1b1b1b"/>
<rect x="95.58" y="72.77" width="1.80" height="1.80" fill="#1b1b1b"/>
<rect x="97.33" y="72.77" width="1.80" height="1.80" fill="#1b1b1b"/>
<rect x="99.08" y="72.77" width="1.80" height="1.80" fill="#1b1b1b"/>
<rect x="100.84" y="72.77" width="1.80" height="1.80" fill="#1b1b1b"/>
<rect x="104.35" y="72.77" width="1.80" height="1.80" fill="#1b1b1b"/>
<rect x="85.05" y="74.52" width="1.80" height="1.80" fill="#1b1b1b"/>
<rect x="90.32" y="74.52" width="1.80" height="1.80" fill="#1b1b1b"/>
<rect x="92.07" y="74.52" width="1.80" height="1.80" fill="#1b1b1b"/>
<rect x="95.58" y="74.52" width="1.80" height="1.80" fill="#1b1b1b"/>
<rect x="99.08" y="74.52" width="1.80" height="1.80" fill="#1b1b1b"/>
<rect x="100.84" y="74.52" width="1.80" height="1.80" fill="#1b1b1b"/>
<rect x="83.30" y="76.28" width="1.80" height="1.80" fill="#1b1b1b"/>
<rect x="85.05" y="76.28" width="1.80" height="1.80" fill="#1b1b1b"/>
<rect x="86.81" y="76.28" width="1.80" height="1.80" fill="#1b1b1b"/>
<rect x="92.07" y="76.28" width="1.80" height="1.80" fill="#1b1b1b"/>
<rect x="93.82" y="76.28" width="1.80" height="1.80" fill="#1b1b1b"/>
<rect x="95.58" y="76.28" width="1.80" height="1.80" fill="#1b1b1b"/>
<rect x="97.33" y="76.28" width="1.80" height="1.80" fill="#1b1b1b"/>
<rect x="100.84" y="76.28" width="1.80" height="1.80" fill="#1b1b1b"/>
<rect x="104.35" y="76.28" width="1.80" height="1.80" fill="#1b1b1b"/>
<rect x="83.30" y="78.03" width="1.80" height="1.80" fill="#1b1b1b"/>
<rect x="86.81" y="78.03" width="1.80" height="1.80" fill="#1b1b1b"/>
<rect x="90.32" y="78.03" width="1.80" height="1.80" fill="#1b1b1b"/>
<rect x="92.07" y="78.03" width="1.80" height="1.80" fill="#1b1b1b"/>
<rect x="93.82" y="78.03" width="1.80" height="1.80" fill="#1b1b1b"/>
<rect x="95.58" y="78.03" width="1.80" height="1.80" fill="#1b1b1b"/>
<rect x="100.84" y="78.03" width="1.80" height="1.80" fill="#1b1b1b"/>
<rect x="104.35" y="78.03" width="1.80" height="1.80" fill="#1b1b1b"/>
<rect x="90.32" y="79.78" width="1.80" height="1.80" fill="#1b1b1b"/>
<rect x="95.58" y="79.78" width="1.80" height="1.80" fill="#1b1b1b"/>
<rect x="99.08" y="79.78" width="1.80" height="1.80" fill="#1b1b1b"/>
<rect x="100.84" y="79.78" width="1.80" height="1.80" fill="#1b1b1b"/>
<rect x="104.35" y="79.78" width="1.80" height="1.80" fill="#1b1b1b"/>
<rect x="90.32" y="81.54" width="1.80" height="1.80" fill="#1b1b1b"/>
<rect x="92.07" y="81.54" width="1.80" height="1.80" fill="#1b1b1b"/>
<rect x="93.82" y="81.54" width="1.80" height="1.80" fill="#1b1b1b"/>
<rect x="97.33" y="81.54" width="1.80" height="1.80" fill="#1b1b1b"/>
<rect x="100.84" y="81.54" width="1.80" height="1.80" fill="#1b1b1b"/>
<rect x="102.59" y="81.54" width="1.80" height="1.80" fill="#1b1b1b"/>
<rect x="90.32" y="83.29" width="1.80" height="1.80" fill="#1b1b1b"/>
<rect x="95.58" y="83.29" width="1.80" height="1.80" fill="#1b1b1b"/>
<rect x="97.33" y="83.29" width="1.80" height="1.80" fill="#1b1b1b"/>
<rect x="102.59" y="83.29" width="1.80" height="1.80" fill="#1b1b1b"/>
<rect x="104.35" y="83.29" width="1.80" height="1.80" fill="#1b1b1b"/>
<rect x="93.82" y="85.05" width="1.80" height="1.80" fill="#1b1b1b"/>
<rect x="100.84" y="85.05" width="1.80" height="1.80" fill="#1b1b1b"/>
<rect x="102.59" y="85.05" width="1.80" height="1.80" fill="#1b1b1b"/>
<rect x="104.35" y="85.05" width="1.80" height="1.80" fill="#1b1b1b"/>
<rect x="83.85" y="64.55" width="5.92" height="5.92" fill="none" stroke="#1b1b1b" stroke-width="1.1"/>
<rect x="85.58" y="66.28" width="2.46" height="2.46" fill="#1b1b1b"/>
<rect x="99.63" y="64.55" width="5.92" height="5.92" fill="none" stroke="#1b1b1b" stroke-width="1.1"/>
<rect x="101.36" y="66.28" width="2.46" height="2.46" fill="#1b1b1b"/>
<rect x="83.85" y="80.33" width="5.92" height="5.92" fill="none" stroke="#1b1b1b" stroke-width="1.1"/>
<rect x="85.58" y="82.06" width="2.46" height="2.46" fill="#1b1b1b"/>
<rect x="69.3" y="88.3" width="9.8" height="10" rx="1" fill="#e98b18"/>
<circle cx="74.2" cy="93.3" r="3.2" fill="#3b2a12"/><path d="M73.2,95.5 L75.5,91" stroke="#e98b18" stroke-width="1"/>
<text x="79.8" y="97" font-size="10.5" fill="#f4f6f8" stroke="#f4f6f8" stroke-width="0.3" textLength="39.8" lengthAdjust="spacingAndGlyphs">johansson</text>
<rect x="105" y="98.6" width="13" height="1.2" fill="#c5ccd2" opacity="0.7"/>
<rect x="6.5" y="101.2" width="118" height="5.3" fill="#9ca3aa"/>
<path d="M20,102.3 L24,102.3 L22,105.4 Z" fill="#111"/>
<rect x="25" y="102.7" width="13" height="2.4" fill="#dde3e8" opacity="0.6"/>
<path d="M42,102.3 L46,102.3 L44,105.4 Z" fill="#2a9a4a"/>
<rect x="47" y="102.7" width="13" height="2.4" fill="#dde3e8" opacity="0.6"/>
<path d="M64,102.3 L68,102.3 L66,105.4 Z" fill="#c2185b"/>
<rect x="69" y="102.7" width="13" height="2.4" fill="#dde3e8" opacity="0.6"/>
<path d="M86,102.3 L90,102.3 L88,105.4 Z" fill="#d4d02a"/>
<rect x="91" y="102.7" width="13" height="2.4" fill="#dde3e8" opacity="0.6"/>
<path d="M108,102.3 L112,102.3 L110,105.4 Z" fill="#fff"/>
<rect x="113" y="102.7" width="10" height="2.4" fill="#f1f3f5" opacity="0.8"/>
</g>
<g transform="translate(554.5,404)">
<path d="M0,0 L6.2,0 L6.2,8.5 Q6.2,11.8 9.35,11.8 Q12.5,11.8 12.5,8.5 L12.5,0 L14,0 L14,14 L117.5,14 L117.5,0 L119,0 L119,8.5 Q119,11.8 122.15,11.8 Q125.3,11.8 125.3,8.5 L125.3,0 L131.5,0 L131.5,28 L0,28 Z" fill="#1c1c1c"/>
<path d="M13.7,14.5 L13.7,7.4399999999999995 Q13.7,1.6 21,1.6 Q28.299999999999997,1.6 28.299999999999997,7.4399999999999995 L28.299999999999997,14.5 Z" fill="url(#fc)"/>
<path d="M36.2,14.5 L36.2,7.4399999999999995 Q36.2,1.6 43.5,1.6 Q50.800000000000004,1.6 50.800000000000004,7.4399999999999995 L50.800000000000004,14.5 Z" fill="url(#fc)"/>
<path d="M58.7,14.5 L58.7,7.4399999999999995 Q58.7,1.6 66,1.6 Q73.3,1.6 73.3,7.4399999999999995 L73.3,14.5 Z" fill="url(#fc)"/>
<path d="M81.2,14.5 L81.2,7.4399999999999995 Q81.2,1.6 88.5,1.6 Q95.8,1.6 95.8,7.4399999999999995 L95.8,14.5 Z" fill="url(#fc)"/>
<path d="M103.7,14.5 L103.7,7.4399999999999995 Q103.7,1.6 111,1.6 Q118.3,1.6 118.3,7.4399999999999995 L118.3,14.5 Z" fill="url(#fc)"/>
<path d="M0,107.5 L131.5,107.5 L131.5,136 L125.3,136 L125.3,127.5 Q125.3,124.2 122.15,124.2 Q119,124.2 119,127.5 L119,136 L117.5,136 L117.5,122 L14,122 L14,136 L12.5,136 L12.5,127.5 Q12.5,124.2 9.35,124.2 Q6.2,124.2 6.2,127.5 L6.2,136 L0,136 Z" fill="#1c1c1c"/>
<path d="M13.7,121 L13.7,128.66 Q13.7,134.5 21,134.5 Q28.299999999999997,134.5 28.299999999999997,128.66 L28.299999999999997,121 Z" fill="url(#fc)"/>
<path d="M36.2,121 L36.2,128.66 Q36.2,134.5 43.5,134.5 Q50.800000000000004,134.5 50.800000000000004,128.66 L50.800000000000004,121 Z" fill="url(#fc)"/>
<path d="M58.7,121 L58.7,128.66 Q58.7,134.5 66,134.5 Q73.3,134.5 73.3,128.66 L73.3,121 Z" fill="url(#fc)"/>
<path d="M81.2,121 L81.2,128.66 Q81.2,134.5 88.5,134.5 Q95.8,134.5 95.8,128.66 L95.8,121 Z" fill="url(#fc)"/>
<path d="M103.7,121 L103.7,128.66 Q103.7,134.5 111,134.5 Q118.3,134.5 118.3,128.66 L118.3,121 Z" fill="url(#fc)"/>
<path d="M4.5,49 L-5.8,49 Q-12,49 -12,56.75 Q-12,64.5 -5.8,64.5 L4.5,64.5 Z" fill="url(#fcv)"/>
<path d="M4.5,72 L-5.839999999999997,72 Q-12,72 -12,79.7 Q-12,87.4 -5.839999999999997,87.4 L4.5,87.4 Z" fill="url(#fcv)"/>
<rect x="4" y="28" width="122.5" height="79.5" fill="#dfe1e3"/>
<rect x="6.5" y="29.5" width="118" height="76.5" fill="url(#msbody)"/>
<rect x="6.5" y="29.5" width="118" height="76.5" fill="url(#msbody2)"/>
<rect x="6.5" y="29.8" width="118" height="7" fill="url(#msrow)"/>
<path d="M20,31.3 L24,31.3 L22,34.5 Z" fill="#111"/>
<text x="25" y="35.8" font-size="6.5" font-weight="bold" fill="#f2f4f6">V</text>
<rect x="29.5" y="33.5" width="2" height="2.5" fill="#f2f4f6" opacity="0.8"/>
<path d="M42,31.3 L46,31.3 L44,34.5 Z" fill="#2a9a4a"/>
<text x="47" y="35.8" font-size="6.5" font-weight="bold" fill="#f2f4f6">H</text>
<rect x="51.5" y="33.5" width="2" height="2.5" fill="#f2f4f6" opacity="0.8"/>
<path d="M64,31.3 L68,31.3 L66,34.5 Z" fill="#c2185b"/>
<text x="69" y="35.8" font-size="6.5" font-weight="bold" fill="#f2f4f6">V</text>
<rect x="73.5" y="33.5" width="2" height="2.5" fill="#f2f4f6" opacity="0.8"/>
<path d="M86,31.3 L90,31.3 L88,34.5 Z" fill="#d4d02a"/>
<text x="91" y="35.8" font-size="6.5" font-weight="bold" fill="#f2f4f6">H</text>
<rect x="95.5" y="33.5" width="2" height="2.5" fill="#f2f4f6" opacity="0.8"/>
<path d="M108,31.3 L112,31.3 L110,34.5 Z" fill="#fff"/>
<rect x="113" y="32" width="10" height="2.8" fill="#f6dfe3" opacity="0.75"/>
<rect x="6.5" y="37" width="118" height="7.7" fill="url(#mstitle)"/>
<rect x="28" y="37.6" width="24" height="6.5" fill="url(#orL)"/>
<rect x="79" y="37.6" width="24" height="6.5" fill="url(#orR)"/>
<text x="50.8" y="44.2" font-size="8.6" textLength="29" lengthAdjust="spacingAndGlyphs" fill="#eef0f2" stroke="#eef0f2" stroke-width="0.2">9734PL</text>
<rect x="16" y="45" width="22.7" height="35.4" fill="#d6efec"/>
<rect x="41.5" y="45" width="22.8" height="17.2" fill="#d6efec"/>
<rect x="17.5" y="45.60" width="19.5" height="1.1" fill="#5fa3a0" opacity="0.75"/>
<rect x="17.5" y="48.20" width="19.5" height="1.1" fill="#5fa3a0" opacity="0.75"/>
<rect x="17.5" y="50.80" width="19.5" height="1.1" fill="#5fa3a0" opacity="0.75"/>
<rect x="17.5" y="53.40" width="19.5" height="1.1" fill="#5fa3a0" opacity="0.75"/>
<rect x="17.5" y="56.00" width="19.5" height="1.1" fill="#5fa3a0" opacity="0.75"/>
<rect x="17.5" y="58.60" width="19.5" height="1.1" fill="#5fa3a0" opacity="0.75"/>
<rect x="17.5" y="61.20" width="19.5" height="1.1" fill="#5fa3a0" opacity="0.75"/>
<rect x="17.5" y="63.80" width="19.5" height="1.1" fill="#5fa3a0" opacity="0.75"/>
<rect x="17.5" y="66.40" width="19.5" height="1.1" fill="#5fa3a0" opacity="0.75"/>
<rect x="17.5" y="69.00" width="19.5" height="1.1" fill="#5fa3a0" opacity="0.75"/>
<rect x="17.5" y="71.60" width="19.5" height="1.1" fill="#5fa3a0" opacity="0.75"/>
<rect x="17.5" y="74.20" width="19.5" height="1.1" fill="#5fa3a0" opacity="0.75"/>
<rect x="17.5" y="76.80" width="19.5" height="1.1" fill="#5fa3a0" opacity="0.75"/>
<rect x="17.5" y="79.40" width="19.5" height="1.1" fill="#5fa3a0" opacity="0.75"/>
<rect x="42.8" y="45.60" width="20" height="1.1" fill="#5fa3a0" opacity="0.75"/>
<rect x="42.8" y="48.20" width="20" height="1.1" fill="#5fa3a0" opacity="0.75"/>
<rect x="42.8" y="50.80" width="20" height="1.1" fill="#5fa3a0" opacity="0.75"/>
<rect x="42.8" y="53.40" width="20" height="1.1" fill="#5fa3a0" opacity="0.75"/>
<rect x="42.8" y="56.00" width="20" height="1.1" fill="#5fa3a0" opacity="0.75"/>
<rect x="42.8" y="58.60" width="20" height="1.1" fill="#5fa3a0" opacity="0.75"/>
<rect x="19.5" y="45" width="1" height="35.4" fill="#ffffff" opacity="0.7"/>
<rect x="23.5" y="45" width="1" height="35.4" fill="#ffffff" opacity="0.7"/>
<rect x="27.5" y="45" width="1" height="35.4" fill="#ffffff" opacity="0.7"/>
<rect x="31.5" y="45" width="1" height="35.4" fill="#ffffff" opacity="0.7"/>
<rect x="35.5" y="45" width="1" height="35.4" fill="#ffffff" opacity="0.7"/>
<rect x="45" y="45" width="1" height="17.2" fill="#ffffff" opacity="0.7"/>
<rect x="49" y="45" width="1" height="17.2" fill="#ffffff" opacity="0.7"/>
<rect x="53" y="45" width="1" height="17.2" fill="#ffffff" opacity="0.7"/>
<rect x="57" y="45" width="1" height="17.2" fill="#ffffff" opacity="0.7"/>
<rect x="61" y="45" width="1" height="17.2" fill="#ffffff" opacity="0.7"/>
<rect x="36.8" y="45" width="1.8" height="35.4" fill="#f6f8f8"/>
<rect x="63.5" y="46" width="2" height="16" rx="1" fill="#f4f4f4"/><rect x="64" y="48" width="1" height="12" fill="#333"/>
<rect x="10" y="52" width="2" height="40" fill="#d8dde2" opacity="0.35"/>
<rect x="67.5" y="46.2" width="39.5" height="3" fill="#aab3bb" opacity="0.7"/>
<rect x="68.5" y="49.8" width="38" height="3.2" fill="#56616b"/>
<rect x="69.2" y="50.599999999999994" width="16" height="1.6" fill="#aeb6bd" opacity="0.8"/>
<rect x="92" y="50.599999999999994" width="9" height="1.6" fill="#2c343c"/>
<rect x="68.5" y="53.8" width="38" height="3.2" fill="#56616b"/>
<rect x="69.2" y="54.599999999999994" width="16" height="1.6" fill="#aeb6bd" opacity="0.8"/>
<rect x="92" y="54.599999999999994" width="9" height="1.6" fill="#2c343c"/>
<rect x="68.5" y="57.8" width="38" height="3.2" fill="#56616b"/>
<rect x="69.2" y="58.599999999999994" width="16" height="1.6" fill="#aeb6bd" opacity="0.8"/>
<rect x="92" y="58.599999999999994" width="9" height="1.6" fill="#2c343c"/>
<rect x="111.5" y="53.5" width="2" height="2" fill="#4caf50"/><rect x="114.5" y="53.5" width="2" height="2" fill="#8bc34a"/><rect x="117.5" y="53.5" width="2" height="2" fill="#ff9800"/>
<rect x="111.5" y="76" width="2" height="2" fill="#4caf50"/><rect x="114.5" y="76" width="2" height="2" fill="#8bc34a"/><rect x="117.5" y="76" width="3" height="2" fill="#c2185b" opacity="0.7"/>
<rect x="121" y="64" width="4" height="4" fill="#111"/><rect x="121" y="68.5" width="4" height="4.5" fill="#f4f4f4"/>
<rect x="128.3" y="64.6" width="3.2" height="3.2" fill="#111"/>
<text x="68" y="73.2" font-size="8.5" fill="#eef1f3" textLength="10" lengthAdjust="spacingAndGlyphs">CE</text>
<rect x="71.5" y="77" width="4" height="5" fill="#c9d0d6" opacity="0.5"/><rect x="71" y="83.5" width="5" height="1.8" fill="#e4e8eb" opacity="0.7"/>
<rect x="82.3" y="63" width="24.8" height="24.7" fill="#f4f4f4"/>
<rect x="90.32" y="64.00" width="1.80" height="1.80" fill="#1b1b1b"/>
<rect x="95.58" y="64.00" width="1.80" height="1.80" fill="#1b1b1b"/>
<rect x="97.33" y="64.00" width="1.80" height="1.80" fill="#1b1b1b"/>
<rect x="92.07" y="65.75" width="1.80" height="1.80" fill="#1b1b1b"/>
<rect x="93.82" y="65.75" width="1.80" height="1.80" fill="#1b1b1b"/>
<rect x="90.32" y="67.51" width="1.80" height="1.80" fill="#1b1b1b"/>
<rect x="92.07" y="67.51" width="1.80" height="1.80" fill="#1b1b1b"/>
<rect x="93.82" y="67.51" width="1.80" height="1.80" fill="#1b1b1b"/>
<rect x="90.32" y="69.26" width="1.80" height="1.80" fill="#1b1b1b"/>
<rect x="83.30" y="71.02" width="1.80" height="1.80" fill="#1b1b1b"/>
<rect x="85.05" y="71.02" width="1.80" height="1.80" fill="#1b1b1b"/>
<rect x="88.56" y="71.02" width="1.80" height="1.80" fill="#1b1b1b"/>
<rect x="90.32" y="71.02" width="1.80" height="1.80" fill="#1b1b1b"/>
<rect x="92.07" y="71.02" width="1.80" height="1.80" fill="#1b1b1b"/>
<rect x="93.82" y="71.02" width="1.80" height="1.80" fill="#1b1b1b"/>
<rect x="95.58" y="71.02" width="1.80" height="1.80" fill="#1b1b1b"/>
<rect x="97.33" y="71.02" width="1.80" height="1.80" fill="#1b1b1b"/>
<rect x="100.84" y="71.02" width="1.80" height="1.80" fill="#1b1b1b"/>
<rect x="104.35" y="71.02" width="1.80" height="1.80" fill="#1b1b1b"/>
<rect x="85.05" y="72.77" width="1.80" height="1.80" fill="#1b1b1b"/>
<rect x="86.81" y="72.77" width="1.80" height="1.80" fill="#1b1b1b"/>
<rect x="95.58" y="72.77" width="1.80" height="1.80" fill="#1b1b1b"/>
<rect x="97.33" y="72.77" width="1.80" height="1.80" fill="#1b1b1b"/>
<rect x="99.08" y="72.77" width="1.80" height="1.80" fill="#1b1b1b"/>
<rect x="100.84" y="72.77" width="1.80" height="1.80" fill="#1b1b1b"/>
<rect x="104.35" y="72.77" width="1.80" height="1.80" fill="#1b1b1b"/>
<rect x="85.05" y="74.52" width="1.80" height="1.80" fill="#1b1b1b"/>
<rect x="90.32" y="74.52" width="1.80" height="1.80" fill="#1b1b1b"/>
<rect x="92.07" y="74.52" width="1.80" height="1.80" fill="#1b1b1b"/>
<rect x="95.58" y="74.52" width="1.80" height="1.80" fill="#1b1b1b"/>
<rect x="99.08" y="74.52" width="1.80" height="1.80" fill="#1b1b1b"/>
<rect x="100.84" y="74.52" width="1.80" height="1.80" fill="#1b1b1b"/>
<rect x="83.30" y="76.28" width="1.80" height="1.80" fill="#1b1b1b"/>
<rect x="85.05" y="76.28" width="1.80" height="1.80" fill="#1b1b1b"/>
<rect x="86.81" y="76.28" width="1.80" height="1.80" fill="#1b1b1b"/>
<rect x="92.07" y="76.28" width="1.80" height="1.80" fill="#1b1b1b"/>
<rect x="93.82" y="76.28" width="1.80" height="1.80" fill="#1b1b1b"/>
<rect x="95.58" y="76.28" width="1.80" height="1.80" fill="#1b1b1b"/>
<rect x="97.33" y="76.28" width="1.80" height="1.80" fill="#1b1b1b"/>
<rect x="100.84" y="76.28" width="1.80" height="1.80" fill="#1b1b1b"/>
<rect x="104.35" y="76.28" width="1.80" height="1.80" fill="#1b1b1b"/>
<rect x="83.30" y="78.03" width="1.80" height="1.80" fill="#1b1b1b"/>
<rect x="86.81" y="78.03" width="1.80" height="1.80" fill="#1b1b1b"/>
<rect x="90.32" y="78.03" width="1.80" height="1.80" fill="#1b1b1b"/>
<rect x="92.07" y="78.03" width="1.80" height="1.80" fill="#1b1b1b"/>
<rect x="93.82" y="78.03" width="1.80" height="1.80" fill="#1b1b1b"/>
<rect x="95.58" y="78.03" width="1.80" height="1.80" fill="#1b1b1b"/>
<rect x="100.84" y="78.03" width="1.80" height="1.80" fill="#1b1b1b"/>
<rect x="104.35" y="78.03" width="1.80" height="1.80" fill="#1b1b1b"/>
<rect x="90.32" y="79.78" width="1.80" height="1.80" fill="#1b1b1b"/>
<rect x="95.58" y="79.78" width="1.80" height="1.80" fill="#1b1b1b"/>
<rect x="99.08" y="79.78" width="1.80" height="1.80" fill="#1b1b1b"/>
<rect x="100.84" y="79.78" width="1.80" height="1.80" fill="#1b1b1b"/>
<rect x="104.35" y="79.78" width="1.80" height="1.80" fill="#1b1b1b"/>
<rect x="90.32" y="81.54" width="1.80" height="1.80" fill="#1b1b1b"/>
<rect x="92.07" y="81.54" width="1.80" height="1.80" fill="#1b1b1b"/>
<rect x="93.82" y="81.54" width="1.80" height="1.80" fill="#1b1b1b"/>
<rect x="97.33" y="81.54" width="1.80" height="1.80" fill="#1b1b1b"/>
<rect x="100.84" y="81.54" width="1.80" height="1.80" fill="#1b1b1b"/>
<rect x="102.59" y="81.54" width="1.80" height="1.80" fill="#1b1b1b"/>
<rect x="90.32" y="83.29" width="1.80" height="1.80" fill="#1b1b1b"/>
<rect x="95.58" y="83.29" width="1.80" height="1.80" fill="#1b1b1b"/>
<rect x="97.33" y="83.29" width="1.80" height="1.80" fill="#1b1b1b"/>
<rect x="102.59" y="83.29" width="1.80" height="1.80" fill="#1b1b1b"/>
<rect x="104.35" y="83.29" width="1.80" height="1.80" fill="#1b1b1b"/>
<rect x="93.82" y="85.05" width="1.80" height="1.80" fill="#1b1b1b"/>
<rect x="100.84" y="85.05" width="1.80" height="1.80" fill="#1b1b1b"/>
<rect x="102.59" y="85.05" width="1.80" height="1.80" fill="#1b1b1b"/>
<rect x="104.35" y="85.05" width="1.80" height="1.80" fill="#1b1b1b"/>
<rect x="83.85" y="64.55" width="5.92" height="5.92" fill="none" stroke="#1b1b1b" stroke-width="1.1"/>
<rect x="85.58" y="66.28" width="2.46" height="2.46" fill="#1b1b1b"/>
<rect x="99.63" y="64.55" width="5.92" height="5.92" fill="none" stroke="#1b1b1b" stroke-width="1.1"/>
<rect x="101.36" y="66.28" width="2.46" height="2.46" fill="#1b1b1b"/>
<rect x="83.85" y="80.33" width="5.92" height="5.92" fill="none" stroke="#1b1b1b" stroke-width="1.1"/>
<rect x="85.58" y="82.06" width="2.46" height="2.46" fill="#1b1b1b"/>
<rect x="69.3" y="88.3" width="9.8" height="10" rx="1" fill="#e98b18"/>
<circle cx="74.2" cy="93.3" r="3.2" fill="#3b2a12"/><path d="M73.2,95.5 L75.5,91" stroke="#e98b18" stroke-width="1"/>
<text x="79.8" y="97" font-size="10.5" fill="#f4f6f8" stroke="#f4f6f8" stroke-width="0.3" textLength="39.8" lengthAdjust="spacingAndGlyphs">johansson</text>
<rect x="105" y="98.6" width="13" height="1.2" fill="#c5ccd2" opacity="0.7"/>
<rect x="6.5" y="101.2" width="118" height="5.3" fill="#9ca3aa"/>
<path d="M20,102.3 L24,102.3 L22,105.4 Z" fill="#111"/>
<rect x="25" y="102.7" width="13" height="2.4" fill="#dde3e8" opacity="0.6"/>
<path d="M42,102.3 L46,102.3 L44,105.4 Z" fill="#2a9a4a"/>
<rect x="47" y="102.7" width="13" height="2.4" fill="#dde3e8" opacity="0.6"/>
<path d="M64,102.3 L68,102.3 L66,105.4 Z" fill="#c2185b"/>
<rect x="69" y="102.7" width="13" height="2.4" fill="#dde3e8" opacity="0.6"/>
<path d="M86,102.3 L90,102.3 L88,105.4 Z" fill="#d4d02a"/>
<rect x="91" y="102.7" width="13" height="2.4" fill="#dde3e8" opacity="0.6"/>
<path d="M108,102.3 L112,102.3 L110,105.4 Z" fill="#fff"/>
<rect x="113" y="102.7" width="10" height="2.4" fill="#f1f3f5" opacity="0.8"/>
</g>
<g transform="translate(554.5,603.5)">
<path d="M0,0 L6.2,0 L6.2,8.5 Q6.2,11.8 9.35,11.8 Q12.5,11.8 12.5,8.5 L12.5,0 L14,0 L14,14 L117.5,14 L117.5,0 L119,0 L119,8.5 Q119,11.8 122.15,11.8 Q125.3,11.8 125.3,8.5 L125.3,0 L131.5,0 L131.5,28 L0,28 Z" fill="#1c1c1c"/>
<path d="M13.7,14.5 L13.7,7.4399999999999995 Q13.7,1.6 21,1.6 Q28.299999999999997,1.6 28.299999999999997,7.4399999999999995 L28.299999999999997,14.5 Z" fill="url(#fc)"/>
<path d="M36.2,14.5 L36.2,7.4399999999999995 Q36.2,1.6 43.5,1.6 Q50.800000000000004,1.6 50.800000000000004,7.4399999999999995 L50.800000000000004,14.5 Z" fill="url(#fc)"/>
<path d="M58.7,14.5 L58.7,7.4399999999999995 Q58.7,1.6 66,1.6 Q73.3,1.6 73.3,7.4399999999999995 L73.3,14.5 Z" fill="url(#fc)"/>
<path d="M81.2,14.5 L81.2,7.4399999999999995 Q81.2,1.6 88.5,1.6 Q95.8,1.6 95.8,7.4399999999999995 L95.8,14.5 Z" fill="url(#fc)"/>
<path d="M103.7,14.5 L103.7,7.4399999999999995 Q103.7,1.6 111,1.6 Q118.3,1.6 118.3,7.4399999999999995 L118.3,14.5 Z" fill="url(#fc)"/>
<path d="M0,107.5 L131.5,107.5 L131.5,136 L125.3,136 L125.3,127.5 Q125.3,124.2 122.15,124.2 Q119,124.2 119,127.5 L119,136 L117.5,136 L117.5,122 L14,122 L14,136 L12.5,136 L12.5,127.5 Q12.5,124.2 9.35,124.2 Q6.2,124.2 6.2,127.5 L6.2,136 L0,136 Z" fill="#1c1c1c"/>
<path d="M13.7,121 L13.7,128.66 Q13.7,134.5 21,134.5 Q28.299999999999997,134.5 28.299999999999997,128.66 L28.299999999999997,121 Z" fill="url(#fc)"/>
<path d="M36.2,121 L36.2,127.16 Q36.2,133 43.5,133 Q50.800000000000004,133 50.800000000000004,127.16 L50.800000000000004,121 Z" fill="url(#fc)"/>
<path d="M35.5,131 L51.5,131 L53.1,139 L51.8,144.5 L35.2,144.5 L33.9,139 Z" fill="#8f8f8f"/>
<path d="M38.2,132 L48.8,132 L49.3,139 L48.5,144.5 L38.5,144.5 L37.7,139 Z" fill="#141414"/>
<rect x="38.9" y="135" width="2.2" height="2.6" fill="#e6e6e6"/>
<rect x="44.7" y="135.5" width="1.2" height="2" fill="#777"/>
<rect x="39.4" y="144.3" width="8.2" height="10" rx="1.6" fill="#1c1c1c"/>
<rect x="40.9" y="145" width="1.1" height="8.5" fill="#8a8a8a"/>
<rect x="44.8" y="145" width="1" height="8.5" fill="#5a5a5a"/>
<path d="M58.7,121 L58.7,127.16 Q58.7,133 66,133 Q73.3,133 73.3,127.16 L73.3,121 Z" fill="url(#fc)"/>
<path d="M58,131 L74,131 L75.6,139 L74.3,144.5 L57.7,144.5 L56.4,139 Z" fill="#8f8f8f"/>
<path d="M60.7,132 L71.3,132 L71.8,139 L71,144.5 L61,144.5 L60.2,139 Z" fill="#141414"/>
<rect x="61.4" y="135" width="2.2" height="2.6" fill="#e6e6e6"/>
<rect x="67.2" y="135.5" width="1.2" height="2" fill="#777"/>
<rect x="61.9" y="144.3" width="8.2" height="10" rx="1.6" fill="#1c1c1c"/>
<rect x="63.4" y="145" width="1.1" height="8.5" fill="#8a8a8a"/>
<rect x="67.3" y="145" width="1" height="8.5" fill="#5a5a5a"/>
<path d="M81.2,121 L81.2,127.16 Q81.2,133 88.5,133 Q95.8,133 95.8,127.16 L95.8,121 Z" fill="url(#fc)"/>
<path d="M80.5,131 L96.5,131 L98.1,139 L96.8,144.5 L80.2,144.5 L78.9,139 Z" fill="#8f8f8f"/>
<path d="M83.2,132 L93.8,132 L94.3,139 L93.5,144.5 L83.5,144.5 L82.7,139 Z" fill="#141414"/>
<rect x="83.9" y="135" width="2.2" height="2.6" fill="#e6e6e6"/>
<rect x="89.7" y="135.5" width="1.2" height="2" fill="#777"/>
<rect x="84.4" y="144.3" width="8.2" height="10" rx="1.6" fill="#1c1c1c"/>
<rect x="85.9" y="145" width="1.1" height="8.5" fill="#8a8a8a"/>
<rect x="89.8" y="145" width="1" height="8.5" fill="#5a5a5a"/>
<path d="M103.7,121 L103.7,127.16 Q103.7,133 111,133 Q118.3,133 118.3,127.16 L118.3,121 Z" fill="url(#fc)"/>
<path d="M103,131 L119,131 L120.6,139 L119.3,144.5 L102.7,144.5 L101.4,139 Z" fill="#8f8f8f"/>
<path d="M105.7,132 L116.3,132 L116.8,139 L116,144.5 L106,144.5 L105.2,139 Z" fill="#141414"/>
<rect x="106.4" y="135" width="2.2" height="2.6" fill="#e6e6e6"/>
<rect x="112.2" y="135.5" width="1.2" height="2" fill="#777"/>
<rect x="106.9" y="144.3" width="8.2" height="10" rx="1.6" fill="#1c1c1c"/>
<rect x="108.4" y="145" width="1.1" height="8.5" fill="#8a8a8a"/>
<rect x="112.3" y="145" width="1" height="8.5" fill="#5a5a5a"/>
<path d="M4.5,49 L-5.8,49 Q-12,49 -12,56.75 Q-12,64.5 -5.8,64.5 L4.5,64.5 Z" fill="url(#fcv)"/>
<path d="M4.5,72 L-5.839999999999997,72 Q-12,72 -12,79.7 Q-12,87.4 -5.839999999999997,87.4 L4.5,87.4 Z" fill="url(#fcv)"/>
<rect x="4" y="28" width="122.5" height="79.5" fill="#dfe1e3"/>
<rect x="6.5" y="29.5" width="118" height="76.5" fill="url(#msbody)"/>
<rect x="6.5" y="29.5" width="118" height="76.5" fill="url(#msbody2)"/>
<rect x="6.5" y="29.8" width="118" height="7" fill="url(#msrow)"/>
<path d="M20,31.3 L24,31.3 L22,34.5 Z" fill="#111"/>
<text x="25" y="35.8" font-size="6.5" font-weight="bold" fill="#f2f4f6">V</text>
<rect x="29.5" y="33.5" width="2" height="2.5" fill="#f2f4f6" opacity="0.8"/>
<path d="M42,31.3 L46,31.3 L44,34.5 Z" fill="#2a9a4a"/>
<text x="47" y="35.8" font-size="6.5" font-weight="bold" fill="#f2f4f6">H</text>
<rect x="51.5" y="33.5" width="2" height="2.5" fill="#f2f4f6" opacity="0.8"/>
<path d="M64,31.3 L68,31.3 L66,34.5 Z" fill="#c2185b"/>
<text x="69" y="35.8" font-size="6.5" font-weight="bold" fill="#f2f4f6">V</text>
<rect x="73.5" y="33.5" width="2" height="2.5" fill="#f2f4f6" opacity="0.8"/>
<path d="M86,31.3 L90,31.3 L88,34.5 Z" fill="#d4d02a"/>
<text x="91" y="35.8" font-size="6.5" font-weight="bold" fill="#f2f4f6">H</text>
<rect x="95.5" y="33.5" width="2" height="2.5" fill="#f2f4f6" opacity="0.8"/>
<path d="M108,31.3 L112,31.3 L110,34.5 Z" fill="#fff"/>
<rect x="113" y="32" width="10" height="2.8" fill="#f6dfe3" opacity="0.75"/>
<rect x="6.5" y="37" width="118" height="7.7" fill="url(#mstitle)"/>
<rect x="28" y="37.6" width="24" height="6.5" fill="url(#orL)"/>
<rect x="79" y="37.6" width="24" height="6.5" fill="url(#orR)"/>
<text x="50.8" y="44.2" font-size="8.6" textLength="29" lengthAdjust="spacingAndGlyphs" fill="#eef0f2" stroke="#eef0f2" stroke-width="0.2">9734PL</text>
<rect x="16" y="45" width="22.7" height="35.4" fill="#d6efec"/>
<rect x="41.5" y="45" width="22.8" height="17.2" fill="#d6efec"/>
<rect x="17.5" y="45.60" width="19.5" height="1.1" fill="#5fa3a0" opacity="0.75"/>
<rect x="17.5" y="48.20" width="19.5" height="1.1" fill="#5fa3a0" opacity="0.75"/>
<rect x="17.5" y="50.80" width="19.5" height="1.1" fill="#5fa3a0" opacity="0.75"/>
<rect x="17.5" y="53.40" width="19.5" height="1.1" fill="#5fa3a0" opacity="0.75"/>
<rect x="17.5" y="56.00" width="19.5" height="1.1" fill="#5fa3a0" opacity="0.75"/>
<rect x="17.5" y="58.60" width="19.5" height="1.1" fill="#5fa3a0" opacity="0.75"/>
<rect x="17.5" y="61.20" width="19.5" height="1.1" fill="#5fa3a0" opacity="0.75"/>
<rect x="17.5" y="63.80" width="19.5" height="1.1" fill="#5fa3a0" opacity="0.75"/>
<rect x="17.5" y="66.40" width="19.5" height="1.1" fill="#5fa3a0" opacity="0.75"/>
<rect x="17.5" y="69.00" width="19.5" height="1.1" fill="#5fa3a0" opacity="0.75"/>
<rect x="17.5" y="71.60" width="19.5" height="1.1" fill="#5fa3a0" opacity="0.75"/>
<rect x="17.5" y="74.20" width="19.5" height="1.1" fill="#5fa3a0" opacity="0.75"/>
<rect x="17.5" y="76.80" width="19.5" height="1.1" fill="#5fa3a0" opacity="0.75"/>
<rect x="17.5" y="79.40" width="19.5" height="1.1" fill="#5fa3a0" opacity="0.75"/>
<rect x="42.8" y="45.60" width="20" height="1.1" fill="#5fa3a0" opacity="0.75"/>
<rect x="42.8" y="48.20" width="20" height="1.1" fill="#5fa3a0" opacity="0.75"/>
<rect x="42.8" y="50.80" width="20" height="1.1" fill="#5fa3a0" opacity="0.75"/>
<rect x="42.8" y="53.40" width="20" height="1.1" fill="#5fa3a0" opacity="0.75"/>
<rect x="42.8" y="56.00" width="20" height="1.1" fill="#5fa3a0" opacity="0.75"/>
<rect x="42.8" y="58.60" width="20" height="1.1" fill="#5fa3a0" opacity="0.75"/>
<rect x="19.5" y="45" width="1" height="35.4" fill="#ffffff" opacity="0.7"/>
<rect x="23.5" y="45" width="1" height="35.4" fill="#ffffff" opacity="0.7"/>
<rect x="27.5" y="45" width="1" height="35.4" fill="#ffffff" opacity="0.7"/>
<rect x="31.5" y="45" width="1" height="35.4" fill="#ffffff" opacity="0.7"/>
<rect x="35.5" y="45" width="1" height="35.4" fill="#ffffff" opacity="0.7"/>
<rect x="45" y="45" width="1" height="17.2" fill="#ffffff" opacity="0.7"/>
<rect x="49" y="45" width="1" height="17.2" fill="#ffffff" opacity="0.7"/>
<rect x="53" y="45" width="1" height="17.2" fill="#ffffff" opacity="0.7"/>
<rect x="57" y="45" width="1" height="17.2" fill="#ffffff" opacity="0.7"/>
<rect x="61" y="45" width="1" height="17.2" fill="#ffffff" opacity="0.7"/>
<rect x="36.8" y="45" width="1.8" height="35.4" fill="#f6f8f8"/>
<rect x="63.5" y="46" width="2" height="16" rx="1" fill="#f4f4f4"/><rect x="64" y="48" width="1" height="12" fill="#333"/>
<rect x="10" y="52" width="2" height="40" fill="#d8dde2" opacity="0.35"/>
<rect x="67.5" y="46.2" width="39.5" height="3" fill="#aab3bb" opacity="0.7"/>
<rect x="68.5" y="49.8" width="38" height="3.2" fill="#56616b"/>
<rect x="69.2" y="50.599999999999994" width="16" height="1.6" fill="#aeb6bd" opacity="0.8"/>
<rect x="92" y="50.599999999999994" width="9" height="1.6" fill="#2c343c"/>
<rect x="68.5" y="53.8" width="38" height="3.2" fill="#56616b"/>
<rect x="69.2" y="54.599999999999994" width="16" height="1.6" fill="#aeb6bd" opacity="0.8"/>
<rect x="92" y="54.599999999999994" width="9" height="1.6" fill="#2c343c"/>
<rect x="68.5" y="57.8" width="38" height="3.2" fill="#56616b"/>
<rect x="69.2" y="58.599999999999994" width="16" height="1.6" fill="#aeb6bd" opacity="0.8"/>
<rect x="92" y="58.599999999999994" width="9" height="1.6" fill="#2c343c"/>
<rect x="111.5" y="53.5" width="2" height="2" fill="#4caf50"/><rect x="114.5" y="53.5" width="2" height="2" fill="#8bc34a"/><rect x="117.5" y="53.5" width="2" height="2" fill="#ff9800"/>
<rect x="111.5" y="76" width="2" height="2" fill="#4caf50"/><rect x="114.5" y="76" width="2" height="2" fill="#8bc34a"/><rect x="117.5" y="76" width="3" height="2" fill="#c2185b" opacity="0.7"/>
<rect x="121" y="64" width="4" height="4" fill="#111"/><rect x="121" y="68.5" width="4" height="4.5" fill="#f4f4f4"/>
<rect x="128.3" y="64.6" width="3.2" height="3.2" fill="#111"/>
<text x="68" y="73.2" font-size="8.5" fill="#eef1f3" textLength="10" lengthAdjust="spacingAndGlyphs">CE</text>
<rect x="71.5" y="77" width="4" height="5" fill="#c9d0d6" opacity="0.5"/><rect x="71" y="83.5" width="5" height="1.8" fill="#e4e8eb" opacity="0.7"/>
<rect x="82.3" y="63" width="24.8" height="24.7" fill="#f4f4f4"/>
<rect x="90.32" y="64.00" width="1.80" height="1.80" fill="#1b1b1b"/>
<rect x="95.58" y="64.00" width="1.80" height="1.80" fill="#1b1b1b"/>
<rect x="97.33" y="64.00" width="1.80" height="1.80" fill="#1b1b1b"/>
<rect x="92.07" y="65.75" width="1.80" height="1.80" fill="#1b1b1b"/>
<rect x="93.82" y="65.75" width="1.80" height="1.80" fill="#1b1b1b"/>
<rect x="90.32" y="67.51" width="1.80" height="1.80" fill="#1b1b1b"/>
<rect x="92.07" y="67.51" width="1.80" height="1.80" fill="#1b1b1b"/>
<rect x="93.82" y="67.51" width="1.80" height="1.80" fill="#1b1b1b"/>
<rect x="90.32" y="69.26" width="1.80" height="1.80" fill="#1b1b1b"/>
<rect x="83.30" y="71.02" width="1.80" height="1.80" fill="#1b1b1b"/>
<rect x="85.05" y="71.02" width="1.80" height="1.80" fill="#1b1b1b"/>
<rect x="88.56" y="71.02" width="1.80" height="1.80" fill="#1b1b1b"/>
<rect x="90.32" y="71.02" width="1.80" height="1.80" fill="#1b1b1b"/>
<rect x="92.07" y="71.02" width="1.80" height="1.80" fill="#1b1b1b"/>
<rect x="93.82" y="71.02" width="1.80" height="1.80" fill="#1b1b1b"/>
<rect x="95.58" y="71.02" width="1.80" height="1.80" fill="#1b1b1b"/>
<rect x="97.33" y="71.02" width="1.80" height="1.80" fill="#1b1b1b"/>
<rect x="100.84" y="71.02" width="1.80" height="1.80" fill="#1b1b1b"/>
<rect x="104.35" y="71.02" width="1.80" height="1.80" fill="#1b1b1b"/>
<rect x="85.05" y="72.77" width="1.80" height="1.80" fill="#1b1b1b"/>
<rect x="86.81" y="72.77" width="1.80" height="1.80" fill="#1b1b1b"/>
<rect x="95.58" y="72.77" width="1.80" height="1.80" fill="#1b1b1b"/>
<rect x="97.33" y="72.77" width="1.80" height="1.80" fill="#1b1b1b"/>
<rect x="99.08" y="72.77" width="1.80" height="1.80" fill="#1b1b1b"/>
<rect x="100.84" y="72.77" width="1.80" height="1.80" fill="#1b1b1b"/>
<rect x="104.35" y="72.77" width="1.80" height="1.80" fill="#1b1b1b"/>
<rect x="85.05" y="74.52" width="1.80" height="1.80" fill="#1b1b1b"/>
<rect x="90.32" y="74.52" width="1.80" height="1.80" fill="#1b1b1b"/>
<rect x="92.07" y="74.52" width="1.80" height="1.80" fill="#1b1b1b"/>
<rect x="95.58" y="74.52" width="1.80" height="1.80" fill="#1b1b1b"/>
<rect x="99.08" y="74.52" width="1.80" height="1.80" fill="#1b1b1b"/>
<rect x="100.84" y="74.52" width="1.80" height="1.80" fill="#1b1b1b"/>
<rect x="83.30" y="76.28" width="1.80" height="1.80" fill="#1b1b1b"/>
<rect x="85.05" y="76.28" width="1.80" height="1.80" fill="#1b1b1b"/>
<rect x="86.81" y="76.28" width="1.80" height="1.80" fill="#1b1b1b"/>
<rect x="92.07" y="76.28" width="1.80" height="1.80" fill="#1b1b1b"/>
<rect x="93.82" y="76.28" width="1.80" height="1.80" fill="#1b1b1b"/>
<rect x="95.58" y="76.28" width="1.80" height="1.80" fill="#1b1b1b"/>
<rect x="97.33" y="76.28" width="1.80" height="1.80" fill="#1b1b1b"/>
<rect x="100.84" y="76.28" width="1.80" height="1.80" fill="#1b1b1b"/>
<rect x="104.35" y="76.28" width="1.80" height="1.80" fill="#1b1b1b"/>
<rect x="83.30" y="78.03" width="1.80" height="1.80" fill="#1b1b1b"/>
<rect x="86.81" y="78.03" width="1.80" height="1.80" fill="#1b1b1b"/>
<rect x="90.32" y="78.03" width="1.80" height="1.80" fill="#1b1b1b"/>
<rect x="92.07" y="78.03" width="1.80" height="1.80" fill="#1b1b1b"/>
<rect x="93.82" y="78.03" width="1.80" height="1.80" fill="#1b1b1b"/>
<rect x="95.58" y="78.03" width="1.80" height="1.80" fill="#1b1b1b"/>
<rect x="100.84" y="78.03" width="1.80" height="1.80" fill="#1b1b1b"/>
<rect x="104.35" y="78.03" width="1.80" height="1.80" fill="#1b1b1b"/>
<rect x="90.32" y="79.78" width="1.80" height="1.80" fill="#1b1b1b"/>
<rect x="95.58" y="79.78" width="1.80" height="1.80" fill="#1b1b1b"/>
<rect x="99.08" y="79.78" width="1.80" height="1.80" fill="#1b1b1b"/>
<rect x="100.84" y="79.78" width="1.80" height="1.80" fill="#1b1b1b"/>
<rect x="104.35" y="79.78" width="1.80" height="1.80" fill="#1b1b1b"/>
<rect x="90.32" y="81.54" width="1.80" height="1.80" fill="#1b1b1b"/>
<rect x="92.07" y="81.54" width="1.80" height="1.80" fill="#1b1b1b"/>
<rect x="93.82" y="81.54" width="1.80" height="1.80" fill="#1b1b1b"/>
<rect x="97.33" y="81.54" width="1.80" height="1.80" fill="#1b1b1b"/>
<rect x="100.84" y="81.54" width="1.80" height="1.80" fill="#1b1b1b"/>
<rect x="102.59" y="81.54" width="1.80" height="1.80" fill="#1b1b1b"/>
<rect x="90.32" y="83.29" width="1.80" height="1.80" fill="#1b1b1b"/>
<rect x="95.58" y="83.29" width="1.80" height="1.80" fill="#1b1b1b"/>
<rect x="97.33" y="83.29" width="1.80" height="1.80" fill="#1b1b1b"/>
<rect x="102.59" y="83.29" width="1.80" height="1.80" fill="#1b1b1b"/>
<rect x="104.35" y="83.29" width="1.80" height="1.80" fill="#1b1b1b"/>
<rect x="93.82" y="85.05" width="1.80" height="1.80" fill="#1b1b1b"/>
<rect x="100.84" y="85.05" width="1.80" height="1.80" fill="#1b1b1b"/>
<rect x="102.59" y="85.05" width="1.80" height="1.80" fill="#1b1b1b"/>
<rect x="104.35" y="85.05" width="1.80" height="1.80" fill="#1b1b1b"/>
<rect x="83.85" y="64.55" width="5.92" height="5.92" fill="none" stroke="#1b1b1b" stroke-width="1.1"/>
<rect x="85.58" y="66.28" width="2.46" height="2.46" fill="#1b1b1b"/>
<rect x="99.63" y="64.55" width="5.92" height="5.92" fill="none" stroke="#1b1b1b" stroke-width="1.1"/>
<rect x="101.36" y="66.28" width="2.46" height="2.46" fill="#1b1b1b"/>
<rect x="83.85" y="80.33" width="5.92" height="5.92" fill="none" stroke="#1b1b1b" stroke-width="1.1"/>
<rect x="85.58" y="82.06" width="2.46" height="2.46" fill="#1b1b1b"/>
<rect x="69.3" y="88.3" width="9.8" height="10" rx="1" fill="#e98b18"/>
<circle cx="74.2" cy="93.3" r="3.2" fill="#3b2a12"/><path d="M73.2,95.5 L75.5,91" stroke="#e98b18" stroke-width="1"/>
<text x="79.8" y="97" font-size="10.5" fill="#f4f6f8" stroke="#f4f6f8" stroke-width="0.3" textLength="39.8" lengthAdjust="spacingAndGlyphs">johansson</text>
<rect x="105" y="98.6" width="13" height="1.2" fill="#c5ccd2" opacity="0.7"/>
<rect x="6.5" y="101.2" width="118" height="5.3" fill="#9ca3aa"/>
<path d="M20,102.3 L24,102.3 L22,105.4 Z" fill="#111"/>
<rect x="25" y="102.7" width="13" height="2.4" fill="#dde3e8" opacity="0.6"/>
<path d="M42,102.3 L46,102.3 L44,105.4 Z" fill="#2a9a4a"/>
<rect x="47" y="102.7" width="13" height="2.4" fill="#dde3e8" opacity="0.6"/>
<path d="M64,102.3 L68,102.3 L66,105.4 Z" fill="#c2185b"/>
<rect x="69" y="102.7" width="13" height="2.4" fill="#dde3e8" opacity="0.6"/>
<path d="M86,102.3 L90,102.3 L88,105.4 Z" fill="#d4d02a"/>
<rect x="91" y="102.7" width="13" height="2.4" fill="#dde3e8" opacity="0.6"/>
<path d="M108,102.3 L112,102.3 L110,105.4 Z" fill="#fff"/>
<rect x="113" y="102.7" width="10" height="2.4" fill="#f1f3f5" opacity="0.8"/>
</g>
<text id="t0" x="66.0" y="69.5" font-size="13.08" stroke="#3b3b3b" stroke-width="0.3" textLength="62.5" lengthAdjust="spacingAndGlyphs" fill="#3b3b3b">Mieszkania</text>
<text id="t1" x="16.2" y="245.9" font-size="13.23" stroke="#3b3b3b" stroke-width="0.3" textLength="129.8" lengthAdjust="spacingAndGlyphs" fill="#3b3b3b">Dekoder jednokablowy</text>
<text id="t2" x="88.5" y="361.0" font-size="12.79" stroke="#3b3b3b" stroke-width="0.3" textLength="13.2" lengthAdjust="spacingAndGlyphs" fill="#3b3b3b">TV</text>
<text id="t3" x="26.7" y="422.1" font-size="13.23" stroke="#3b3b3b" stroke-width="0.3" textLength="109.5" lengthAdjust="spacingAndGlyphs" fill="#3b3b3b">Tradycyjny dekoder</text>
<text id="t4" x="13.4" y="512.3" font-size="13.23" stroke="#3b3b3b" stroke-width="0.3" textLength="129.9" lengthAdjust="spacingAndGlyphs" fill="#3b3b3b">Dekoder jednokablowy</text>
<text id="t5" x="10.0" y="680.9" font-size="13.23" stroke="#3b3b3b" stroke-width="0.3" textLength="129.4" lengthAdjust="spacingAndGlyphs" fill="#3b3b3b">Dekoder jednokablowy</text>
<text id="t6" x="8.7" y="751.2" font-size="13.23" stroke="#3b3b3b" stroke-width="0.3" textLength="129.6" lengthAdjust="spacingAndGlyphs" fill="#3b3b3b">Dekoder jednokablowy</text>
<text id="t7" x="480.2" y="63.4" font-size="12.5" stroke="#3b3b3b" stroke-width="0.3" textLength="106.7" lengthAdjust="spacingAndGlyphs" fill="#3b3b3b">Konwerter Quattro</text>
<text id="t8" x="819.2" y="62.5" font-size="12.06" stroke="#3b3b3b" stroke-width="0.3" textLength="89.1" lengthAdjust="spacingAndGlyphs" fill="#3b3b3b">Antena radiowa</text>
<text id="t9" x="822.3" y="124.6" font-size="12.06" stroke="#3b3b3b" stroke-width="0.3" textLength="65.7" lengthAdjust="spacingAndGlyphs" fill="#3b3b3b">Antena VHF</text>
<text id="t10" x="825.2" y="184.2" font-size="12.06" stroke="#3b3b3b" stroke-width="0.3" textLength="66.4" lengthAdjust="spacingAndGlyphs" fill="#3b3b3b">Antena UHF</text>
<text id="t11" x="699.5" y="261.3" font-size="15.99" font-weight="bold" stroke="#262626" stroke-width="0.15" textLength="56.8" lengthAdjust="spacingAndGlyphs" fill="#262626">9733 PL</text>
<text id="t12" x="698.6" y="287.9" font-size="12.94" stroke="#3b3b3b" stroke-width="0.3" textLength="150.3" lengthAdjust="spacingAndGlyphs" fill="#3b3b3b">Multiswitch Unicable II 5/1</text>
<text id="t13" x="699.4" y="420.1" font-size="15.99" font-weight="bold" stroke="#262626" stroke-width="0.15" textLength="57.4" lengthAdjust="spacingAndGlyphs" fill="#262626">9734 PL</text>
<text id="t14" x="702.0" y="443.8" font-size="12.94" stroke="#3b3b3b" stroke-width="0.3" textLength="150.3" lengthAdjust="spacingAndGlyphs" fill="#3b3b3b">Multiswitch Unicable II 5/2</text>
<text id="t15" x="306.0" y="510.6" font-size="13.08" stroke="#3b3b3b" stroke-width="0.3" textLength="61.7" lengthAdjust="spacingAndGlyphs" fill="#3b3b3b">Długi kabel</text>
<text id="t16" x="392.3" y="533.4" font-size="13.08" stroke="#3b3b3b" stroke-width="0.3" textLength="130.5" lengthAdjust="spacingAndGlyphs" fill="#3b3b3b">Wzmacniacz Wideband</text>
<text id="t17" x="693.2" y="572.6" font-size="13.08" stroke="#3b3b3b" stroke-width="0.3" textLength="54.8" lengthAdjust="spacingAndGlyphs" fill="#3b3b3b">następnie</text>
<text id="t18" x="699.4" y="616.3" font-size="15.99" font-weight="bold" stroke="#262626" stroke-width="0.15" textLength="56.4" lengthAdjust="spacingAndGlyphs" fill="#262626">9734PL</text>
<text id="t19" x="702.0" y="638.9" font-size="12.94" stroke="#3b3b3b" stroke-width="0.3" textLength="150.3" lengthAdjust="spacingAndGlyphs" fill="#3b3b3b">Multiswitch Unicable II 5/2</text>
<text id="t20" x="700.2" y="750.3" font-size="12.94" stroke="#3b3b3b" stroke-width="0.3" textLength="203.3" lengthAdjust="spacingAndGlyphs" fill="#3b3b3b">Rezystor końcowy 75 Ohm (4 sztuki)</text>
<text id="t21" x="412.6" y="817.3" font-size="16.72" stroke="#3b3b3b" stroke-width="0.3" textLength="100.7" lengthAdjust="spacingAndGlyphs" fill="#3b3b3b">Power Inserter</text>
<text id="t22" x="551.9" y="857.1" font-size="12.79" stroke="#3b3b3b" stroke-width="0.3" textLength="206.8" lengthAdjust="spacingAndGlyphs" fill="#3b3b3b">Rezystor końcowy 75 Ohm (1 sztuka)</text>
<text id="t23" x="405.5" y="898.1" font-size="12.65" stroke="#3b3b3b" stroke-width="0.3" textLength="42.1" lengthAdjust="spacingAndGlyphs" fill="#3b3b3b">Zasilacz</text>
<text id="t24" x="400.2" y="919.9" font-size="15.26" stroke="#3b3b3b" stroke-width="0.3" textLength="58.0" lengthAdjust="spacingAndGlyphs" fill="#3b3b3b">20V / 3A</text>
</svg>
</body></html>
